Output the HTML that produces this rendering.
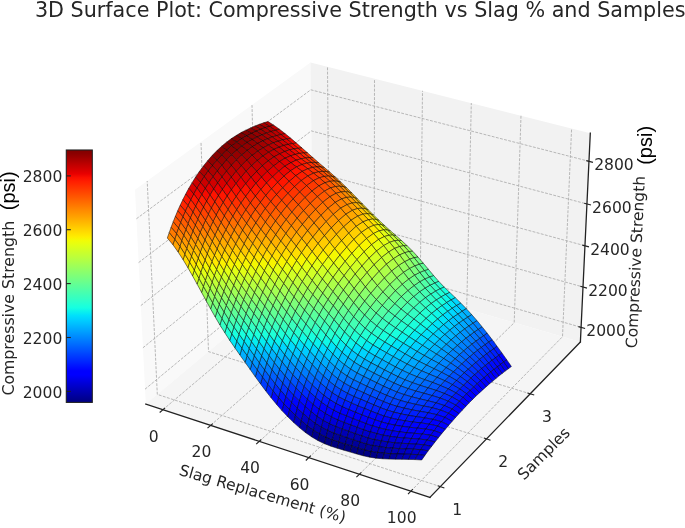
<!DOCTYPE html>
<html><head><meta charset="utf-8"><title>3D Surface Plot</title><style>html,body{margin:0;padding:0;background:#fff}svg{display:block}</style></head><body>
<svg width="685" height="528" viewBox="0 0 685 528">
<rect width="685" height="528" fill="#fff"/>
<path d="M145.8 404.1L312.9 264.1L310.5 62.6L135 189.8Z" fill="#f9f9f9"/>
<path d="M312.9 264.1L580.4 341.9L590.3 133.2L310.5 62.6Z" fill="#f2f2f2"/>
<path d="M145.8 404.1L429.9 497.4L580.4 341.9L312.9 264.1Z" fill="#f5f5f5"/>
<g fill="none" stroke="#b0b0b0" stroke-width="0.9" stroke-dasharray="2.9 1.35">
<path d="M162.9 409.7L329.2 268.9L327.5 66.9"/>
<path d="M210.6 425.4L374.2 282L374.5 78.8"/>
<path d="M259.3 441.4L420.1 295.3L422.5 90.8"/>
<path d="M308.8 457.6L466.7 308.9L471.3 103.1"/>
<path d="M359.4 474.2L514.2 322.7L521 115.7"/>
<path d="M410.9 491.1L562.5 336.7L571.6 128.4"/>
<path d="M440.4 486.6L157.3 394.4L147.2 181"/>
<path d="M486.5 438.9L208.5 351.6L201 142"/>
<path d="M530.2 393.8L257 311L252 105.1"/>
<path d="M145 389.2L312.8 250.1L581.1 327.3"/>
<path d="M142.9 347.8L312.3 211L583 287"/>
<path d="M140.8 305.6L311.8 171.3L585 245.8"/>
<path d="M138.6 262.6L311.3 130.9L586.9 204"/>
<path d="M136.4 218.8L310.8 89.8L589 161.3"/>
</g>
<g fill="none" stroke="#222" stroke-width="1.3" stroke-linecap="square">
<path d="M145.8 404.1L429.9 497.4"/>
<path d="M429.9 497.4L580.4 341.9"/>
<path d="M580.4 341.9L590.3 133.2"/>
</g>
<g fill="none" stroke="#222" stroke-width="1.1">
<path d="M165.1 407.9L159.7 412.5"/>
<path d="M212.8 423.6L207.5 428.2"/>
<path d="M261.3 439.5L256.2 444.2"/>
<path d="M310.9 455.7L305.8 460.5"/>
<path d="M361.4 472.3L356.4 477.2"/>
<path d="M412.9 489.1L408 494.1"/>
<path d="M437.7 485.7L444.4 487.9"/>
<path d="M483.9 438.1L490.5 440.2"/>
<path d="M527.5 392.9L534.2 395"/>
<path d="M578.4 326.6L585.1 328.5"/>
<path d="M580.3 286.2L587 288.1"/>
<path d="M582.3 245.1L589 246.9"/>
<path d="M584.2 203.2L591 205"/>
<path d="M586.3 160.6L593 162.4"/>
</g>
<g stroke="#000" stroke-width="0.5" stroke-linejoin="round">
<path d="M263.7 122.8L269.5 126.4L273.8 125.2L268 121.5Z" fill="#b20000"/>
<path d="M269.5 126.4L275.3 130.3L279.5 129.3L273.8 125.2Z" fill="#bf0000"/>
<path d="M275.3 130.3L281 134.5L285.2 133.7L279.5 129.3Z" fill="#cd0000"/>
<path d="M281 134.5L286.7 139L290.8 138.3L285.2 133.7Z" fill="#df0000"/>
<path d="M286.7 139L292.4 143.6L296.4 143.1L290.8 138.3Z" fill="#ed0400"/>
<path d="M292.4 143.6L298.1 148.3L302 148L296.4 143.1Z" fill="#ff1300"/>
<path d="M259.4 124.3L265.2 127.7L269.5 126.4L263.7 122.8Z" fill="#a80000"/>
<path d="M298.1 148.3L303.8 153L307.6 152.9L302 148Z" fill="#ff2500"/>
<path d="M303.8 153L309.4 157.7L313.1 157.8L307.6 152.9Z" fill="#ff3400"/>
<path d="M265.2 127.7L271 131.5L275.3 130.3L269.5 126.4Z" fill="#b20000"/>
<path d="M309.4 157.7L315.1 162.4L318.7 162.7L313.1 157.8Z" fill="#ff4300"/>
<path d="M315.1 162.4L320.9 167L324.4 167.5L318.7 162.7Z" fill="#ff5200"/>
<path d="M271 131.5L276.7 135.6L281 134.5L275.3 130.3Z" fill="#bf0000"/>
<path d="M320.9 167L326.6 171.6L330 172.3L324.4 167.5Z" fill="#ff6000"/>
<path d="M276.7 135.6L282.5 139.9L286.7 139L281 134.5Z" fill="#d10000"/>
<path d="M326.6 171.6L332.3 176.4L335.6 177.3L330 172.3Z" fill="#ff6f00"/>
<path d="M332.3 176.4L337.9 181.4L341.1 182.4L335.6 177.3Z" fill="#ff7e00"/>
<path d="M282.5 139.9L288.2 144.4L292.4 143.6L286.7 139Z" fill="#df0000"/>
<path d="M337.9 181.4L343.4 186.7L346.6 187.7L341.1 182.4Z" fill="#ff9100"/>
<path d="M254.9 126L260.7 129.4L265.2 127.7L259.4 124.3Z" fill="#9b0000"/>
<path d="M343.4 186.7L348.9 192.1L352 193.1L346.6 187.7Z" fill="#ffa300"/>
<path d="M288.2 144.4L293.9 148.9L298.1 148.3L292.4 143.6Z" fill="#f10800"/>
<path d="M348.9 192.1L354.4 197.6L357.4 198.7L352 193.1Z" fill="#ffb600"/>
<path d="M354.4 197.6L359.8 203.2L362.8 204.2L357.4 198.7Z" fill="#ffc800"/>
<path d="M293.9 148.9L299.7 153.4L303.8 153L298.1 148.3Z" fill="#ff1600"/>
<path d="M359.8 203.2L365.3 208.7L368.3 209.8L362.8 204.2Z" fill="#ffdb00"/>
<path d="M365.3 208.7L370.7 214.1L373.7 215.2L368.3 209.8Z" fill="#feed00"/>
<path d="M260.7 129.4L266.5 133.1L271 131.5L265.2 127.7Z" fill="#a80000"/>
<path d="M299.7 153.4L305.4 158L309.4 157.7L303.8 153Z" fill="#ff2500"/>
<path d="M370.7 214.1L376.2 219.5L379.2 220.5L373.7 215.2Z" fill="#eeff09"/>
<path d="M376.2 219.5L381.7 224.8L384.8 225.7L379.2 220.5Z" fill="#e1ff16"/>
<path d="M305.4 158L311.2 162.4L315.1 162.4L309.4 157.7Z" fill="#ff3400"/>
<path d="M266.5 133.1L272.3 137L276.7 135.6L271 131.5Z" fill="#b60000"/>
<path d="M381.7 224.8L387.3 230L390.4 230.8L384.8 225.7Z" fill="#d1ff26"/>
<path d="M311.2 162.4L317 166.9L320.9 167L315.1 162.4Z" fill="#ff3f00"/>
<path d="M387.3 230L392.8 235.1L396 235.7L390.4 230.8Z" fill="#c4ff33"/>
<path d="M503.5 361.9L508.3 368.8L511.4 366.5L506.7 359.7Z" fill="#0000ed"/>
<path d="M272.3 137L278 141.2L282.5 139.9L276.7 135.6Z" fill="#c40000"/>
<path d="M317 166.9L322.8 171.4L326.6 171.6L320.9 167Z" fill="#ff4e00"/>
<path d="M392.8 235.1L398.3 240.3L401.6 240.6L396 235.7Z" fill="#b4ff43"/>
<path d="M498.6 355.2L503.5 361.9L506.7 359.7L501.9 352.9Z" fill="#0000ff"/>
<path d="M398.3 240.3L403.7 245.7L407.2 245.8L401.6 240.6Z" fill="#a7ff50"/>
<path d="M322.8 171.4L328.5 176.1L332.3 176.4L326.6 171.6Z" fill="#ff5d00"/>
<path d="M493.6 348.6L498.6 355.2L501.9 352.9L497 346.2Z" fill="#0018ff"/>
<path d="M278 141.2L283.8 145.5L288.2 144.4L282.5 139.9Z" fill="#d10000"/>
<path d="M250.4 128L256.2 131.2L260.7 129.4L254.9 126Z" fill="#960000"/>
<path d="M429.4 276.9L434.7 283L438.8 281.4L433.6 275.5Z" fill="#39ffbe"/>
<path d="M403.7 245.7L409 251.5L412.7 251.2L407.2 245.8Z" fill="#97ff60"/>
<path d="M424.3 270.5L429.4 276.9L433.6 275.5L428.4 269.3Z" fill="#4dffaa"/>
<path d="M434.7 283L440.1 288.8L444.2 287.1L438.8 281.4Z" fill="#26ffd1"/>
<path d="M488.5 342L493.6 348.6L497 346.2L492.1 339.6Z" fill="#0034ff"/>
<path d="M419.2 264.1L424.3 270.5L428.4 269.3L423.2 263.1Z" fill="#60ff97"/>
<path d="M328.5 176.1L334.2 181L337.9 181.4L332.3 176.4Z" fill="#ff6c00"/>
<path d="M409 251.5L414.1 257.7L418 257L412.7 251.2Z" fill="#87ff70"/>
<path d="M414.1 257.7L419.2 264.1L423.2 263.1L418 257Z" fill="#73ff83"/>
<path d="M440.1 288.8L445.6 294.4L449.8 292.4L444.2 287.1Z" fill="#16ffe1"/>
<path d="M483.4 335.6L488.5 342L492.1 339.6L487.1 333.1Z" fill="#004cff"/>
<path d="M283.8 145.5L289.5 149.9L293.9 148.9L288.2 144.4Z" fill="#e40000"/>
<path d="M445.6 294.4L451.1 299.9L455.3 297.7L449.8 292.4Z" fill="#06ecf1"/>
<path d="M334.2 181L339.8 186.2L343.4 186.7L337.9 181.4Z" fill="#ff7e00"/>
<path d="M478.1 329.3L483.4 335.6L487.1 333.1L482 326.7Z" fill="#0068ff"/>
<path d="M451.1 299.9L456.6 305.5L460.8 303.1L455.3 297.7Z" fill="#00d8ff"/>
<path d="M472.9 323.1L478.1 329.3L482 326.7L476.9 320.5Z" fill="#0080ff"/>
<path d="M456.6 305.5L462.1 311.2L466.3 308.7L460.8 303.1Z" fill="#00c4ff"/>
<path d="M339.8 186.2L345.3 191.6L348.9 192.1L343.4 186.7Z" fill="#ff8d00"/>
<path d="M467.5 317.1L472.9 323.1L476.9 320.5L471.6 314.5Z" fill="#0098ff"/>
<path d="M462.1 311.2L467.5 317.1L471.6 314.5L466.3 308.7Z" fill="#00b0ff"/>
<path d="M256.2 131.2L261.9 134.9L266.5 133.1L260.7 129.4Z" fill="#9f0000"/>
<path d="M289.5 149.9L295.3 154.4L299.7 153.4L293.9 148.9Z" fill="#f10800"/>
<path d="M345.3 191.6L350.8 197.1L354.4 197.6L348.9 192.1Z" fill="#ff9f00"/>
<path d="M350.8 197.1L356.3 202.6L359.8 203.2L354.4 197.6Z" fill="#ffb200"/>
<path d="M356.3 202.6L361.8 208.2L365.3 208.7L359.8 203.2Z" fill="#ffc400"/>
<path d="M500.3 364.3L505.2 371.1L508.3 368.8L503.5 361.9Z" fill="#0000f1"/>
<path d="M295.3 154.4L301.1 158.8L305.4 158L299.7 153.4Z" fill="#ff1600"/>
<path d="M361.8 208.2L367.2 213.7L370.7 214.1L365.3 208.7Z" fill="#ffd700"/>
<path d="M261.9 134.9L267.6 138.8L272.3 137L266.5 133.1Z" fill="#a80000"/>
<path d="M495.3 357.6L500.3 364.3L503.5 361.9L498.6 355.2Z" fill="#0004ff"/>
<path d="M367.2 213.7L372.7 219.1L376.2 219.5L370.7 214.1Z" fill="#ffea00"/>
<path d="M301.1 158.8L306.9 163.1L311.2 162.4L305.4 158Z" fill="#ff2200"/>
<path d="M372.7 219.1L378.2 224.5L381.7 224.8L376.2 219.5Z" fill="#f1fc06"/>
<path d="M490.1 351.1L495.3 357.6L498.6 355.2L493.6 348.6Z" fill="#0020ff"/>
<path d="M267.6 138.8L273.3 142.9L278 141.2L272.3 137Z" fill="#b60000"/>
<path d="M306.9 163.1L312.7 167.4L317 166.9L311.2 162.4Z" fill="#ff3000"/>
<path d="M378.2 224.5L383.6 229.9L387.3 230L381.7 224.8Z" fill="#e4ff13"/>
<path d="M484.9 344.6L490.1 351.1L493.6 348.6L488.5 342Z" fill="#0038ff"/>
<path d="M245.8 130.2L251.5 133.4L256.2 131.2L250.4 128Z" fill="#8d0000"/>
<path d="M383.6 229.9L389 235.2L392.8 235.1L387.3 230Z" fill="#d4ff23"/>
<path d="M312.7 167.4L318.5 171.8L322.8 171.4L317 166.9Z" fill="#ff3f00"/>
<path d="M273.3 142.9L279 147.2L283.8 145.5L278 141.2Z" fill="#c40000"/>
<path d="M479.6 338.3L484.9 344.6L488.5 342L483.4 335.6Z" fill="#0054ff"/>
<path d="M389 235.2L394.4 240.7L398.3 240.3L392.8 235.1Z" fill="#c7ff30"/>
<path d="M474.2 332L479.6 338.3L483.4 335.6L478.1 329.3Z" fill="#0070ff"/>
<path d="M318.5 171.8L324.3 176.4L328.5 176.1L322.8 171.4Z" fill="#ff4a00"/>
<path d="M497.1 366.7L502.1 373.5L505.2 371.1L500.3 364.3Z" fill="#0000f6"/>
<path d="M279 147.2L284.8 151.5L289.5 149.9L283.8 145.5Z" fill="#d60000"/>
<path d="M468.7 325.9L474.2 332L478.1 329.3L472.9 323.1Z" fill="#0088ff"/>
<path d="M394.4 240.7L399.6 246.5L403.7 245.7L398.3 240.3Z" fill="#b7ff40"/>
<path d="M251.5 133.4L257.1 137L261.9 134.9L256.2 131.2Z" fill="#960000"/>
<path d="M430.1 285.1L435.5 291.1L440.1 288.8L434.7 283Z" fill="#33ffc4"/>
<path d="M324.3 176.4L330 181.3L334.2 181L328.5 176.1Z" fill="#ff5900"/>
<path d="M435.5 291.1L441.1 296.8L445.6 294.4L440.1 288.8Z" fill="#1fffd7"/>
<path d="M424.8 278.9L430.1 285.1L434.7 283L429.4 276.9Z" fill="#46ffb1"/>
<path d="M463.2 319.9L468.7 325.9L472.9 323.1L467.5 317.1Z" fill="#00a0ff"/>
<path d="M441.1 296.8L446.6 302.5L451.1 299.9L445.6 294.4Z" fill="#0ff8e7"/>
<path d="M419.7 272.4L424.8 278.9L429.4 276.9L424.3 270.5Z" fill="#5aff9d"/>
<path d="M446.6 302.5L452.2 308.2L456.6 305.5L451.1 299.9Z" fill="#00e4f8"/>
<path d="M457.7 314L463.2 319.9L467.5 317.1L462.1 311.2Z" fill="#00b8ff"/>
<path d="M399.6 246.5L404.7 252.7L409 251.5L403.7 245.7Z" fill="#a7ff50"/>
<path d="M452.2 308.2L457.7 314L462.1 311.2L456.6 305.5Z" fill="#00d0ff"/>
<path d="M414.6 265.8L419.7 272.4L424.3 270.5L419.2 264.1Z" fill="#6dff8a"/>
<path d="M491.9 360.1L497.1 366.7L500.3 364.3L495.3 357.6Z" fill="#0008ff"/>
<path d="M330 181.3L335.6 186.5L339.8 186.2L334.2 181Z" fill="#ff6c00"/>
<path d="M404.7 252.7L409.7 259.1L414.1 257.7L409 251.5Z" fill="#97ff60"/>
<path d="M409.7 259.1L414.6 265.8L419.2 264.1L414.1 257.7Z" fill="#80ff77"/>
<path d="M284.8 151.5L290.5 155.9L295.3 154.4L289.5 149.9Z" fill="#e40000"/>
<path d="M335.6 186.5L341.1 191.9L345.3 191.6L339.8 186.2Z" fill="#ff7a00"/>
<path d="M257.1 137L262.7 140.9L267.6 138.8L261.9 134.9Z" fill="#9f0000"/>
<path d="M486.6 353.7L491.9 360.1L495.3 357.6L490.1 351.1Z" fill="#0024ff"/>
<path d="M341.1 191.9L346.6 197.4L350.8 197.1L345.3 191.6Z" fill="#ff8d00"/>
<path d="M290.5 155.9L296.3 160.2L301.1 158.8L295.3 154.4Z" fill="#f60b00"/>
<path d="M346.6 197.4L352.1 203L356.3 202.6L350.8 197.1Z" fill="#ff9f00"/>
<path d="M352.1 203L357.6 208.5L361.8 208.2L356.3 202.6Z" fill="#ffb200"/>
<path d="M481.2 347.3L486.6 353.7L490.1 351.1L484.9 344.6Z" fill="#0040ff"/>
<path d="M296.3 160.2L302 164.5L306.9 163.1L301.1 158.8Z" fill="#ff1600"/>
<path d="M262.7 140.9L268.4 145.1L273.3 142.9L267.6 138.8Z" fill="#ad0000"/>
<path d="M357.6 208.5L363 214.1L367.2 213.7L361.8 208.2Z" fill="#ffc400"/>
<path d="M241 132.6L246.6 135.9L251.5 133.4L245.8 130.2Z" fill="#840000"/>
<path d="M475.7 341.1L481.2 347.3L484.9 344.6L479.6 338.3Z" fill="#0058ff"/>
<path d="M363 214.1L368.4 219.7L372.7 219.1L367.2 213.7Z" fill="#ffd700"/>
<path d="M493.8 369.3L498.9 376L502.1 373.5L497.1 366.7Z" fill="#0000fa"/>
<path d="M302 164.5L307.8 168.8L312.7 167.4L306.9 163.1Z" fill="#ff2200"/>
<path d="M368.4 219.7L373.8 225.3L378.2 224.5L372.7 219.1Z" fill="#ffe600"/>
<path d="M268.4 145.1L274 149.4L279 147.2L273.3 142.9Z" fill="#bb0000"/>
<path d="M470.1 335L475.7 341.1L479.6 338.3L474.2 332Z" fill="#0074ff"/>
<path d="M488.5 362.8L493.8 369.3L497.1 366.7L491.9 360.1Z" fill="#000cff"/>
<path d="M373.8 225.3L379.1 230.8L383.6 229.9L378.2 224.5Z" fill="#f4f802"/>
<path d="M307.8 168.8L313.6 173.2L318.5 171.8L312.7 167.4Z" fill="#ff3000"/>
<path d="M464.5 328.9L470.1 335L474.2 332L468.7 325.9Z" fill="#0090ff"/>
<path d="M246.6 135.9L252.2 139.5L257.1 137L251.5 133.4Z" fill="#8d0000"/>
<path d="M274 149.4L279.6 153.8L284.8 151.5L279 147.2Z" fill="#c80000"/>
<path d="M379.1 230.8L384.4 236.5L389 235.2L383.6 229.9Z" fill="#e4ff13"/>
<path d="M458.8 322.9L464.5 328.9L468.7 325.9L463.2 319.9Z" fill="#00a8ff"/>
<path d="M483 356.4L488.5 362.8L491.9 360.1L486.6 353.7Z" fill="#0028ff"/>
<path d="M313.6 173.2L319.3 177.8L324.3 176.4L318.5 171.8Z" fill="#ff3b00"/>
<path d="M453.2 317.1L458.8 322.9L463.2 319.9L457.7 314Z" fill="#00c0ff"/>
<path d="M447.5 311.2L453.2 317.1L457.7 314L452.2 308.2Z" fill="#00d8ff"/>
<path d="M384.4 236.5L389.6 242.3L394.4 240.7L389 235.2Z" fill="#d7ff1f"/>
<path d="M441.9 305.5L447.5 311.2L452.2 308.2L446.6 302.5Z" fill="#06ecf1"/>
<path d="M436.2 299.8L441.9 305.5L446.6 302.5L441.1 296.8Z" fill="#19ffde"/>
<path d="M430.6 294L436.2 299.8L441.1 296.8L435.5 291.1Z" fill="#29ffce"/>
<path d="M425.1 288L430.6 294L435.5 291.1L430.1 285.1Z" fill="#3cffba"/>
<path d="M279.6 153.8L285.2 158.2L290.5 155.9L284.8 151.5Z" fill="#da0000"/>
<path d="M252.2 139.5L257.7 143.5L262.7 140.9L257.1 137Z" fill="#9b0000"/>
<path d="M319.3 177.8L325 182.7L330 181.3L324.3 176.4Z" fill="#ff4a00"/>
<path d="M419.7 281.7L425.1 288L430.1 285.1L424.8 278.9Z" fill="#50ffa7"/>
<path d="M477.4 350.2L483 356.4L486.6 353.7L481.2 347.3Z" fill="#0044ff"/>
<path d="M389.6 242.3L394.6 248.4L399.6 246.5L394.4 240.7Z" fill="#c7ff30"/>
<path d="M414.5 275.1L419.7 281.7L424.8 278.9L419.7 272.4Z" fill="#63ff94"/>
<path d="M490.5 371.9L495.8 378.6L498.9 376L493.8 369.3Z" fill="#0000ff"/>
<path d="M325 182.7L330.5 187.9L335.6 186.5L330 181.3Z" fill="#ff5900"/>
<path d="M409.4 268.4L414.5 275.1L419.7 272.4L414.6 265.8Z" fill="#7aff7d"/>
<path d="M394.6 248.4L399.5 254.9L404.7 252.7L399.6 246.5Z" fill="#b4ff43"/>
<path d="M285.2 158.2L290.9 162.7L296.3 160.2L290.5 155.9Z" fill="#e80000"/>
<path d="M404.5 261.6L409.4 268.4L414.6 265.8L409.7 259.1Z" fill="#8dff6a"/>
<path d="M399.5 254.9L404.5 261.6L409.7 259.1L404.7 252.7Z" fill="#a4ff53"/>
<path d="M236.2 135.5L241.7 138.7L246.6 135.9L241 132.6Z" fill="#800000"/>
<path d="M330.5 187.9L336.1 193.3L341.1 191.9L335.6 186.5Z" fill="#ff6c00"/>
<path d="M471.7 344.1L477.4 350.2L481.2 347.3L475.7 341.1Z" fill="#0060ff"/>
<path d="M257.7 143.5L263.2 147.8L268.4 145.1L262.7 140.9Z" fill="#a40000"/>
<path d="M336.1 193.3L341.6 198.9L346.6 197.4L341.1 191.9Z" fill="#ff7e00"/>
<path d="M485 365.5L490.5 371.9L493.8 369.3L488.5 362.8Z" fill="#0010ff"/>
<path d="M290.9 162.7L296.5 167L302 164.5L296.3 160.2Z" fill="#f60b00"/>
<path d="M341.6 198.9L347 204.6L352.1 203L346.6 197.4Z" fill="#ff8d00"/>
<path d="M465.9 338.1L471.7 344.1L475.7 341.1L470.1 335Z" fill="#0078ff"/>
<path d="M347 204.6L352.4 210.3L357.6 208.5L352.1 203Z" fill="#ff9f00"/>
<path d="M263.2 147.8L268.6 152.3L274 149.4L268.4 145.1Z" fill="#b20000"/>
<path d="M479.4 359.3L485 365.5L488.5 362.8L483 356.4Z" fill="#002cff"/>
<path d="M241.7 138.7L247.1 142.5L252.2 139.5L246.6 135.9Z" fill="#890000"/>
<path d="M352.4 210.3L357.7 216.1L363 214.1L357.6 208.5Z" fill="#ffb200"/>
<path d="M460.1 332.2L465.9 338.1L470.1 335L464.5 328.9Z" fill="#0094ff"/>
<path d="M296.5 167L302.2 171.4L307.8 168.8L302 164.5Z" fill="#ff1600"/>
<path d="M357.7 216.1L363 221.9L368.4 219.7L363 214.1Z" fill="#ffc400"/>
<path d="M454.3 326.3L460.1 332.2L464.5 328.9L458.8 322.9Z" fill="#00acff"/>
<path d="M268.6 152.3L274.1 156.9L279.6 153.8L274 149.4Z" fill="#c40000"/>
<path d="M487.2 374.7L492.5 381.3L495.8 378.6L490.5 371.9Z" fill="#0000ff"/>
<path d="M363 221.9L368.3 227.7L373.8 225.3L368.4 219.7Z" fill="#ffd700"/>
<path d="M302.2 171.4L307.8 176L313.6 173.2L307.8 168.8Z" fill="#ff2500"/>
<path d="M473.5 353.3L479.4 359.3L483 356.4L477.4 350.2Z" fill="#0048ff"/>
<path d="M448.5 320.5L454.3 326.3L458.8 322.9L453.2 317.1Z" fill="#00c4ff"/>
<path d="M247.1 142.5L252.5 146.7L257.7 143.5L252.2 139.5Z" fill="#960000"/>
<path d="M368.3 227.7L373.5 233.5L379.1 230.8L373.8 225.3Z" fill="#ffea00"/>
<path d="M442.7 314.8L448.5 320.5L453.2 317.1L447.5 311.2Z" fill="#00dcfe"/>
<path d="M436.9 309.1L442.7 314.8L447.5 311.2L441.9 305.5Z" fill="#0cf4eb"/>
<path d="M274.1 156.9L279.5 161.5L285.2 158.2L279.6 153.8Z" fill="#d10000"/>
<path d="M307.8 176L313.4 180.7L319.3 177.8L313.6 173.2Z" fill="#ff3000"/>
<path d="M431.1 303.4L436.9 309.1L441.9 305.5L436.2 299.8Z" fill="#1fffd7"/>
<path d="M481.5 368.4L487.2 374.7L490.5 371.9L485 365.5Z" fill="#0014ff"/>
<path d="M467.6 347.4L473.5 353.3L477.4 350.2L471.7 344.1Z" fill="#0064ff"/>
<path d="M425.3 297.7L431.1 303.4L436.2 299.8L430.6 294Z" fill="#30ffc7"/>
<path d="M231.4 138.6L236.7 142.1L241.7 138.7L236.2 135.5Z" fill="#800000"/>
<path d="M373.5 233.5L378.6 239.4L384.4 236.5L379.1 230.8Z" fill="#f1fc06"/>
<path d="M419.6 291.7L425.3 297.7L430.6 294L425.1 288Z" fill="#43ffb4"/>
<path d="M252.5 146.7L257.8 151.2L263.2 147.8L257.7 143.5Z" fill="#9f0000"/>
<path d="M313.4 180.7L318.9 185.8L325 182.7L319.3 177.8Z" fill="#ff3f00"/>
<path d="M414 285.5L419.6 291.7L425.1 288L419.7 281.7Z" fill="#56ffa0"/>
<path d="M279.5 161.5L284.9 166.2L290.9 162.7L285.2 158.2Z" fill="#df0000"/>
<path d="M378.6 239.4L383.6 245.6L389.6 242.3L384.4 236.5Z" fill="#e4ff13"/>
<path d="M461.6 341.6L467.6 347.4L471.7 344.1L465.9 338.1Z" fill="#0080ff"/>
<path d="M408.6 279L414 285.5L419.7 281.7L414.5 275.1Z" fill="#6dff8a"/>
<path d="M475.7 362.4L481.5 368.4L485 365.5L479.4 359.3Z" fill="#0030ff"/>
<path d="M318.9 185.8L324.4 191.1L330.5 187.9L325 182.7Z" fill="#ff4e00"/>
<path d="M383.6 245.6L388.6 252L394.6 248.4L389.6 242.3Z" fill="#d1ff26"/>
<path d="M403.4 272.3L408.6 279L414.5 275.1L409.4 268.4Z" fill="#80ff77"/>
<path d="M236.7 142.1L241.9 146.1L247.1 142.5L241.7 138.7Z" fill="#890000"/>
<path d="M483.8 377.6L489.3 384L492.5 381.3L487.2 374.7Z" fill="#0000ff"/>
<path d="M324.4 191.1L329.9 196.7L336.1 193.3L330.5 187.9Z" fill="#ff6000"/>
<path d="M257.8 151.2L263 156L268.6 152.3L263.2 147.8Z" fill="#ad0000"/>
<path d="M284.9 166.2L290.4 170.9L296.5 167L290.9 162.7Z" fill="#ed0400"/>
<path d="M388.6 252L393.4 258.7L399.5 254.9L394.6 248.4Z" fill="#c1ff36"/>
<path d="M398.4 265.5L403.4 272.3L409.4 268.4L404.5 261.6Z" fill="#97ff60"/>
<path d="M455.6 335.8L461.6 341.6L465.9 338.1L460.1 332.2Z" fill="#0098ff"/>
<path d="M393.4 258.7L398.4 265.5L404.5 261.6L399.5 254.9Z" fill="#adff49"/>
<path d="M329.9 196.7L335.3 202.4L341.6 198.9L336.1 193.3Z" fill="#ff6f00"/>
<path d="M469.6 356.6L475.7 362.4L479.4 359.3L473.5 353.3Z" fill="#004cff"/>
<path d="M335.3 202.4L340.6 208.2L347 204.6L341.6 198.9Z" fill="#ff8200"/>
<path d="M449.6 330.1L455.6 335.8L460.1 332.2L454.3 326.3Z" fill="#00b4ff"/>
<path d="M290.4 170.9L295.8 175.7L302.2 171.4L296.5 167Z" fill="#ff1300"/>
<path d="M478 371.5L483.8 377.6L487.2 374.7L481.5 368.4Z" fill="#0014ff"/>
<path d="M263 156L268.2 160.9L274.1 156.9L268.6 152.3Z" fill="#bf0000"/>
<path d="M340.6 208.2L345.9 214.2L352.4 210.3L347 204.6Z" fill="#ff9400"/>
<path d="M241.9 146.1L247.1 150.5L252.5 146.7L247.1 142.5Z" fill="#920000"/>
<path d="M443.5 324.5L449.6 330.1L454.3 326.3L448.5 320.5Z" fill="#00ccff"/>
<path d="M463.5 350.9L469.6 356.6L473.5 353.3L467.6 347.4Z" fill="#0068ff"/>
<path d="M345.9 214.2L351.1 220.2L357.7 216.1L352.4 210.3Z" fill="#ffa700"/>
<path d="M226.5 142.2L231.7 145.9L236.7 142.1L231.4 138.6Z" fill="#800000"/>
<path d="M437.5 318.9L443.5 324.5L448.5 320.5L442.7 314.8Z" fill="#00e4f8"/>
<path d="M295.8 175.7L301.2 180.6L307.8 176L302.2 171.4Z" fill="#ff1e00"/>
<path d="M351.1 220.2L356.2 226.3L363 221.9L357.7 216.1Z" fill="#ffb900"/>
<path d="M268.2 160.9L273.5 166L279.5 161.5L274.1 156.9Z" fill="#cd0000"/>
<path d="M431.5 313.3L437.5 318.9L442.7 314.8L436.9 309.1Z" fill="#0ff8e7"/>
<path d="M471.9 365.7L478 371.5L481.5 368.4L475.7 362.4Z" fill="#0030ff"/>
<path d="M247.1 150.5L252.2 155.4L257.8 151.2L252.5 146.7Z" fill="#9f0000"/>
<path d="M425.5 307.8L431.5 313.3L436.9 309.1L431.1 303.4Z" fill="#23ffd4"/>
<path d="M356.2 226.3L361.4 232.4L368.3 227.7L363 221.9Z" fill="#ffd000"/>
<path d="M480.4 380.5L486 386.9L489.3 384L483.8 377.6Z" fill="#0000ff"/>
<path d="M457.3 345.3L463.5 350.9L467.6 347.4L461.6 341.6Z" fill="#0080ff"/>
<path d="M419.6 302.2L425.5 307.8L431.1 303.4L425.3 297.7Z" fill="#33ffc4"/>
<path d="M301.2 180.6L306.6 185.6L313.4 180.7L307.8 176Z" fill="#ff2d00"/>
<path d="M273.5 166L278.7 171.1L284.9 166.2L279.5 161.5Z" fill="#df0000"/>
<path d="M361.4 232.4L366.5 238.5L373.5 233.5L368.3 227.7Z" fill="#ffde00"/>
<path d="M413.6 296.5L419.6 302.2L425.3 297.7L419.6 291.7Z" fill="#46ffb1"/>
<path d="M231.7 145.9L236.7 150.2L241.9 146.1L236.7 142.1Z" fill="#840000"/>
<path d="M465.7 360.1L471.9 365.7L475.7 362.4L469.6 356.6Z" fill="#004cff"/>
<path d="M407.8 290.5L413.6 296.5L419.6 291.7L414 285.5Z" fill="#5aff9d"/>
<path d="M306.6 185.6L312 191L318.9 185.8L313.4 180.7Z" fill="#ff3800"/>
<path d="M252.2 155.4L257.3 160.5L263 156L257.8 151.2Z" fill="#ad0000"/>
<path d="M451 339.8L457.3 345.3L461.6 341.6L455.6 335.8Z" fill="#009cff"/>
<path d="M366.5 238.5L371.5 244.7L378.6 239.4L373.5 233.5Z" fill="#fbf100"/>
<path d="M474.4 374.7L480.4 380.5L483.8 377.6L478 371.5Z" fill="#0018ff"/>
<path d="M278.7 171.1L283.9 176.2L290.4 170.9L284.9 166.2Z" fill="#ed0400"/>
<path d="M402.2 284.2L407.8 290.5L414 285.5L408.6 279Z" fill="#70ff87"/>
<path d="M312 191L317.3 196.6L324.4 191.1L318.9 185.8Z" fill="#ff4a00"/>
<path d="M371.5 244.7L376.5 251L383.6 245.6L378.6 239.4Z" fill="#e7ff0f"/>
<path d="M444.7 334.4L451 339.8L455.6 335.8L449.6 330.1Z" fill="#00b4ff"/>
<path d="M236.7 150.2L241.7 155L247.1 150.5L241.9 146.1Z" fill="#920000"/>
<path d="M396.7 277.7L402.2 284.2L408.6 279L403.4 272.3Z" fill="#87ff70"/>
<path d="M257.3 160.5L262.3 165.9L268.2 160.9L263 156Z" fill="#bf0000"/>
<path d="M317.3 196.6L322.7 202.3L329.9 196.7L324.4 191.1Z" fill="#ff5900"/>
<path d="M376.5 251L381.5 257.5L388.6 252L383.6 245.6Z" fill="#d7ff1f"/>
<path d="M459.3 354.6L465.7 360.1L469.6 356.6L463.5 350.9Z" fill="#0068ff"/>
<path d="M221.6 146.3L226.6 150.2L231.7 145.9L226.5 142.2Z" fill="#800000"/>
<path d="M391.5 271L396.7 277.7L403.4 272.3L398.4 265.5Z" fill="#9aff5d"/>
<path d="M283.9 176.2L289.2 181.4L295.8 175.7L290.4 170.9Z" fill="#ff1300"/>
<path d="M381.5 257.5L386.4 264.2L393.4 258.7L388.6 252Z" fill="#c4ff33"/>
<path d="M468.1 369.1L474.4 374.7L478 371.5L471.9 365.7Z" fill="#0034ff"/>
<path d="M386.4 264.2L391.5 271L398.4 265.5L393.4 258.7Z" fill="#b1ff46"/>
<path d="M322.7 202.3L328 208.3L335.3 202.4L329.9 196.7Z" fill="#ff6c00"/>
<path d="M477 383.7L482.7 389.9L486 386.9L480.4 380.5Z" fill="#0000ff"/>
<path d="M438.4 329L444.7 334.4L449.6 330.1L443.5 324.5Z" fill="#00ccff"/>
<path d="M328 208.3L333.3 214.3L340.6 208.2L335.3 202.4Z" fill="#ff7e00"/>
<path d="M262.3 165.9L267.4 171.3L273.5 166L268.2 160.9Z" fill="#d10000"/>
<path d="M432.2 323.6L438.4 329L443.5 324.5L437.5 318.9Z" fill="#00e4f8"/>
<path d="M241.7 155L246.7 160.2L252.2 155.4L247.1 150.5Z" fill="#9f0000"/>
<path d="M333.3 214.3L338.5 220.5L345.9 214.2L340.6 208.2Z" fill="#ff9400"/>
<path d="M289.2 181.4L294.4 186.6L301.2 180.6L295.8 175.7Z" fill="#ff1e00"/>
<path d="M452.8 349.4L459.3 354.6L463.5 350.9L457.3 345.3Z" fill="#0084ff"/>
<path d="M426 318.3L432.2 323.6L437.5 318.9L431.5 313.3Z" fill="#13fce4"/>
<path d="M226.6 150.2L231.6 154.9L236.7 150.2L231.7 145.9Z" fill="#890000"/>
<path d="M338.5 220.5L343.6 226.8L351.1 220.2L345.9 214.2Z" fill="#ffa700"/>
<path d="M470.8 378L477 383.7L480.4 380.5L474.4 374.7Z" fill="#0018ff"/>
<path d="M461.6 363.8L468.1 369.1L471.9 365.7L465.7 360.1Z" fill="#0050ff"/>
<path d="M419.8 313L426 318.3L431.5 313.3L425.5 307.8Z" fill="#23ffd4"/>
<path d="M267.4 171.3L272.5 176.8L278.7 171.1L273.5 166Z" fill="#e40000"/>
<path d="M343.6 226.8L348.7 233.1L356.2 226.3L351.1 220.2Z" fill="#ffb900"/>
<path d="M294.4 186.6L299.7 192L306.6 185.6L301.2 180.6Z" fill="#ff2d00"/>
<path d="M413.5 307.7L419.8 313L425.5 307.8L419.6 302.2Z" fill="#36ffc1"/>
<path d="M246.7 160.2L251.6 165.7L257.3 160.5L252.2 155.4Z" fill="#b20000"/>
<path d="M446.2 344.2L452.8 349.4L457.3 345.3L451 339.8Z" fill="#009cff"/>
<path d="M348.7 233.1L353.8 239.4L361.4 232.4L356.2 226.3Z" fill="#ffd000"/>
<path d="M407.3 302.3L413.5 307.7L419.6 302.2L413.6 296.5Z" fill="#49ffad"/>
<path d="M272.5 176.8L277.6 182.3L283.9 176.2L278.7 171.1Z" fill="#f10800"/>
<path d="M299.7 192L305 197.6L312 191L306.6 185.6Z" fill="#ff3b00"/>
<path d="M353.8 239.4L359 245.6L366.5 238.5L361.4 232.4Z" fill="#ffe200"/>
<path d="M231.6 154.9L236.5 160L241.7 155L236.7 150.2Z" fill="#960000"/>
<path d="M216.8 150.8L221.8 155L226.6 150.2L221.6 146.3Z" fill="#840000"/>
<path d="M473.5 386.9L479.4 392.9L482.7 389.9L477 383.7Z" fill="#0000ff"/>
<path d="M401.2 296.6L407.3 302.3L413.6 296.5L407.8 290.5Z" fill="#5dff9a"/>
<path d="M455 358.7L461.6 363.8L465.7 360.1L459.3 354.6Z" fill="#006cff"/>
<path d="M464.2 372.7L470.8 378L474.4 374.7L468.1 369.1Z" fill="#0034ff"/>
<path d="M251.6 165.7L256.6 171.4L262.3 165.9L257.3 160.5Z" fill="#c40000"/>
<path d="M439.7 339L446.2 344.2L451 339.8L444.7 334.4Z" fill="#00b8ff"/>
<path d="M359 245.6L364 251.8L371.5 244.7L366.5 238.5Z" fill="#f8f500"/>
<path d="M305 197.6L310.3 203.4L317.3 196.6L312 191Z" fill="#ff4e00"/>
<path d="M395.3 290.7L401.2 296.6L407.8 290.5L402.2 284.2Z" fill="#70ff87"/>
<path d="M277.6 182.3L282.7 187.8L289.2 181.4L283.9 176.2Z" fill="#ff1600"/>
<path d="M364 251.8L369 258.2L376.5 251L371.5 244.7Z" fill="#e7ff0f"/>
<path d="M310.3 203.4L315.6 209.3L322.7 202.3L317.3 196.6Z" fill="#ff6000"/>
<path d="M433.2 333.9L439.7 339L444.7 334.4L438.4 329Z" fill="#00d0ff"/>
<path d="M236.5 160L241.3 165.6L246.7 160.2L241.7 155Z" fill="#a80000"/>
<path d="M256.6 171.4L261.5 177.2L267.4 171.3L262.3 165.9Z" fill="#d60000"/>
<path d="M389.7 284.4L395.3 290.7L402.2 284.2L396.7 277.7Z" fill="#83ff73"/>
<path d="M467.1 381.5L473.5 386.9L477 383.7L470.8 378Z" fill="#001cff"/>
<path d="M221.8 155L226.6 160L231.6 154.9L226.6 150.2Z" fill="#8d0000"/>
<path d="M315.6 209.3L320.9 215.4L328 208.3L322.7 202.3Z" fill="#ff7300"/>
<path d="M448.2 353.7L455 358.7L459.3 354.6L452.8 349.4Z" fill="#0084ff"/>
<path d="M369 258.2L374 264.7L381.5 257.5L376.5 251Z" fill="#d4ff23"/>
<path d="M384.3 277.9L389.7 284.4L396.7 277.7L391.5 271Z" fill="#9aff5d"/>
<path d="M282.7 187.8L287.9 193.3L294.4 186.6L289.2 181.4Z" fill="#ff2500"/>
<path d="M457.5 367.7L464.2 372.7L468.1 369.1L461.6 363.8Z" fill="#0050ff"/>
<path d="M426.7 328.9L433.2 333.9L438.4 329L432.2 323.6Z" fill="#00e4f8"/>
<path d="M374 264.7L379.1 271.3L386.4 264.2L381.5 257.5Z" fill="#c4ff33"/>
<path d="M320.9 215.4L326.1 221.6L333.3 214.3L328 208.3Z" fill="#ff8600"/>
<path d="M379.1 271.3L384.3 277.9L391.5 271L386.4 264.2Z" fill="#adff49"/>
<path d="M261.5 177.2L266.5 183L272.5 176.8L267.4 171.3Z" fill="#e80000"/>
<path d="M326.1 221.6L331.3 227.9L338.5 220.5L333.3 214.3Z" fill="#ff9800"/>
<path d="M420.3 323.9L426.7 328.9L432.2 323.6L426 318.3Z" fill="#13fce4"/>
<path d="M241.3 165.6L246.2 171.4L251.6 165.7L246.7 160.2Z" fill="#bb0000"/>
<path d="M331.3 227.9L336.4 234.3L343.6 226.8L338.5 220.5Z" fill="#ffae00"/>
<path d="M287.9 193.3L293.1 198.9L299.7 192L294.4 186.6Z" fill="#ff3400"/>
<path d="M413.8 319L420.3 323.9L426 318.3L419.8 313Z" fill="#23ffd4"/>
<path d="M470 390.3L476 396.1L479.4 392.9L473.5 386.9Z" fill="#0000ff"/>
<path d="M441.4 348.9L448.2 353.7L452.8 349.4L446.2 344.2Z" fill="#009cff"/>
<path d="M212.1 155.6L217 160.1L221.8 155L216.8 150.8Z" fill="#890000"/>
<path d="M226.6 160L231.4 165.4L236.5 160L231.6 154.9Z" fill="#9f0000"/>
<path d="M336.4 234.3L341.5 240.7L348.7 233.1L343.6 226.8Z" fill="#ffc400"/>
<path d="M407.4 314.1L413.8 319L419.8 313L413.5 307.7Z" fill="#33ffc4"/>
<path d="M266.5 183L271.5 188.8L277.6 182.3L272.5 176.8Z" fill="#ff1300"/>
<path d="M460.3 376.5L467.1 381.5L470.8 378L464.2 372.7Z" fill="#0038ff"/>
<path d="M341.5 240.7L346.7 247.1L353.8 239.4L348.7 233.1Z" fill="#ffd700"/>
<path d="M246.2 171.4L251 177.4L256.6 171.4L251.6 165.7Z" fill="#cd0000"/>
<path d="M450.5 362.9L457.5 367.7L461.6 363.8L455 358.7Z" fill="#006cff"/>
<path d="M293.1 198.9L298.3 204.7L305 197.6L299.7 192Z" fill="#ff4700"/>
<path d="M401 309L407.4 314.1L413.5 307.7L407.3 302.3Z" fill="#43ffb4"/>
<path d="M346.7 247.1L351.8 253.4L359 245.6L353.8 239.4Z" fill="#ffea00"/>
<path d="M434.5 344.1L441.4 348.9L446.2 344.2L439.7 339Z" fill="#00b4ff"/>
<path d="M271.5 188.8L276.5 194.5L282.7 187.8L277.6 182.3Z" fill="#ff2200"/>
<path d="M394.7 303.6L401 309L407.3 302.3L401.2 296.6Z" fill="#56ffa0"/>
<path d="M298.3 204.7L303.5 210.6L310.3 203.4L305 197.6Z" fill="#ff5900"/>
<path d="M231.4 165.4L236.2 171.3L241.3 165.6L236.5 160Z" fill="#b20000"/>
<path d="M351.8 253.4L356.9 259.6L364 251.8L359 245.6Z" fill="#eeff09"/>
<path d="M251 177.4L255.9 183.4L261.5 177.2L256.6 171.4Z" fill="#df0000"/>
<path d="M463.3 385.1L470 390.3L473.5 386.9L467.1 381.5Z" fill="#001cff"/>
<path d="M217 160.1L221.8 165.4L226.6 160L221.8 155Z" fill="#960000"/>
<path d="M303.5 210.6L308.8 216.7L315.6 209.3L310.3 203.4Z" fill="#ff6c00"/>
<path d="M388.6 297.9L394.7 303.6L401.2 296.6L395.3 290.7Z" fill="#6aff8d"/>
<path d="M427.8 339.4L434.5 344.1L439.7 339L433.2 333.9Z" fill="#00ccff"/>
<path d="M356.9 259.6L361.9 266L369 258.2L364 251.8Z" fill="#deff19"/>
<path d="M453.3 371.8L460.3 376.5L464.2 372.7L457.5 367.7Z" fill="#0050ff"/>
<path d="M443.5 358.4L450.5 362.9L455 358.7L448.2 353.7Z" fill="#0084ff"/>
<path d="M276.5 194.5L281.6 200.3L287.9 193.3L282.7 187.8Z" fill="#ff3000"/>
<path d="M308.8 216.7L314 222.9L320.9 215.4L315.6 209.3Z" fill="#ff7e00"/>
<path d="M255.9 183.4L260.8 189.5L266.5 183L261.5 177.2Z" fill="#f60b00"/>
<path d="M236.2 171.3L240.9 177.3L246.2 171.4L241.3 165.6Z" fill="#c40000"/>
<path d="M382.8 291.8L388.6 297.9L395.3 290.7L389.7 284.4Z" fill="#7dff7a"/>
<path d="M361.9 266L367 272.5L374 264.7L369 258.2Z" fill="#caff2c"/>
<path d="M314 222.9L319.2 229.2L326.1 221.6L320.9 215.4Z" fill="#ff9100"/>
<path d="M466.4 393.7L472.6 399.4L476 396.1L470 390.3Z" fill="#0000ff"/>
<path d="M207.7 160.7L212.5 165.5L217 160.1L212.1 155.6Z" fill="#920000"/>
<path d="M421.1 334.7L427.8 339.4L433.2 333.9L426.7 328.9Z" fill="#00e0fb"/>
<path d="M377.3 285.5L382.8 291.8L389.7 284.4L384.3 277.9Z" fill="#94ff63"/>
<path d="M367 272.5L372 279L379.1 271.3L374 264.7Z" fill="#baff3c"/>
<path d="M319.2 229.2L324.4 235.7L331.3 227.9L326.1 221.6Z" fill="#ffa700"/>
<path d="M221.8 165.4L226.5 171.1L231.4 165.4L226.6 160Z" fill="#a80000"/>
<path d="M372 279L377.3 285.5L384.3 277.9L379.1 271.3Z" fill="#a7ff50"/>
<path d="M281.6 200.3L286.8 206.1L293.1 198.9L287.9 193.3Z" fill="#ff4300"/>
<path d="M324.4 235.7L329.6 242.1L336.4 234.3L331.3 227.9Z" fill="#ffbd00"/>
<path d="M414.5 330.1L421.1 334.7L426.7 328.9L420.3 323.9Z" fill="#0cf4eb"/>
<path d="M260.8 189.5L265.7 195.5L271.5 188.8L266.5 183Z" fill="#ff1e00"/>
<path d="M456.3 380.4L463.3 385.1L467.1 381.5L460.3 376.5Z" fill="#0038ff"/>
<path d="M240.9 177.3L245.7 183.6L251 177.4L246.2 171.4Z" fill="#da0000"/>
<path d="M329.6 242.1L334.7 248.6L341.5 240.7L336.4 234.3Z" fill="#ffd000"/>
<path d="M436.4 354L443.5 358.4L448.2 353.7L441.4 348.9Z" fill="#009cff"/>
<path d="M407.9 325.5L414.5 330.1L420.3 323.9L413.8 319Z" fill="#1cffdb"/>
<path d="M334.7 248.6L339.9 255L346.7 247.1L341.5 240.7Z" fill="#ffe600"/>
<path d="M286.8 206.1L291.9 212.1L298.3 204.7L293.1 198.9Z" fill="#ff5200"/>
<path d="M446 367.5L453.3 371.8L457.5 367.7L450.5 362.9Z" fill="#006cff"/>
<path d="M401.3 320.8L407.9 325.5L413.8 319L407.4 314.1Z" fill="#2cffca"/>
<path d="M226.5 171.1L231.3 177.2L236.2 171.3L231.4 165.4Z" fill="#bb0000"/>
<path d="M339.9 255L345.1 261.3L351.8 253.4L346.7 247.1Z" fill="#f4f802"/>
<path d="M265.7 195.5L270.7 201.5L276.5 194.5L271.5 188.8Z" fill="#ff2d00"/>
<path d="M212.5 165.5L217.3 171L221.8 165.4L217 160.1Z" fill="#a40000"/>
<path d="M245.7 183.6L250.5 189.9L255.9 183.4L251 177.4Z" fill="#ed0400"/>
<path d="M394.8 316L401.3 320.8L407.4 314.1L401 309Z" fill="#3cffba"/>
<path d="M459.6 388.9L466.4 393.7L470 390.3L463.3 385.1Z" fill="#001cff"/>
<path d="M291.9 212.1L297.1 218.2L303.5 210.6L298.3 204.7Z" fill="#ff6400"/>
<path d="M345.1 261.3L350.2 267.6L356.9 259.6L351.8 253.4Z" fill="#e1ff16"/>
<path d="M429.3 349.6L436.4 354L441.4 348.9L434.5 344.1Z" fill="#00b4ff"/>
<path d="M388.3 310.9L394.8 316L401 309L394.7 303.6Z" fill="#4dffaa"/>
<path d="M297.1 218.2L302.4 224.4L308.8 216.7L303.5 210.6Z" fill="#ff7700"/>
<path d="M270.7 201.5L275.8 207.5L281.6 200.3L276.5 194.5Z" fill="#ff3f00"/>
<path d="M250.5 189.9L255.4 196.2L260.8 189.5L255.9 183.4Z" fill="#ff1600"/>
<path d="M350.2 267.6L355.2 274L361.9 266L356.9 259.6Z" fill="#d1ff26"/>
<path d="M231.3 177.2L236 183.5L240.9 177.3L236.2 171.3Z" fill="#d10000"/>
<path d="M203.4 166L208.2 171L212.5 165.5L207.7 160.7Z" fill="#9f0000"/>
<path d="M449 376.2L456.3 380.4L460.3 376.5L453.3 371.8Z" fill="#0050ff"/>
<path d="M302.4 224.4L307.6 230.7L314 222.9L308.8 216.7Z" fill="#ff8d00"/>
<path d="M382.2 305.4L388.3 310.9L394.7 303.6L388.6 297.9Z" fill="#60ff97"/>
<path d="M438.7 363.3L446 367.5L450.5 362.9L443.5 358.4Z" fill="#0084ff"/>
<path d="M462.8 397.4L469.2 402.8L472.6 399.4L466.4 393.7Z" fill="#0000ff"/>
<path d="M217.3 171L222 177L226.5 171.1L221.8 165.4Z" fill="#b60000"/>
<path d="M307.6 230.7L312.8 237.1L319.2 229.2L314 222.9Z" fill="#ff9f00"/>
<path d="M422.4 345.3L429.3 349.6L434.5 344.1L427.8 339.4Z" fill="#00c8ff"/>
<path d="M355.2 274L360.3 280.4L367 272.5L361.9 266Z" fill="#beff39"/>
<path d="M312.8 237.1L318 243.5L324.4 235.7L319.2 229.2Z" fill="#ffb600"/>
<path d="M275.8 207.5L280.9 213.5L286.8 206.1L281.6 200.3Z" fill="#ff5200"/>
<path d="M376.3 299.5L382.2 305.4L388.6 297.9L382.8 291.8Z" fill="#73ff83"/>
<path d="M255.4 196.2L260.4 202.4L265.7 195.5L260.8 189.5Z" fill="#ff2900"/>
<path d="M236 183.5L240.7 190L245.7 183.6L240.9 177.3Z" fill="#e80000"/>
<path d="M318 243.5L323.2 250.1L329.6 242.1L324.4 235.7Z" fill="#ffcc00"/>
<path d="M360.3 280.4L365.4 286.9L372 279L367 272.5Z" fill="#adff49"/>
<path d="M370.7 293.3L376.3 299.5L382.8 291.8L377.3 285.5Z" fill="#87ff70"/>
<path d="M323.2 250.1L328.4 256.6L334.7 248.6L329.6 242.1Z" fill="#ffe200"/>
<path d="M415.5 340.9L422.4 345.3L427.8 339.4L421.1 334.7Z" fill="#00dcfe"/>
<path d="M365.4 286.9L370.7 293.3L377.3 285.5L372 279Z" fill="#9aff5d"/>
<path d="M452.3 384.6L459.6 388.9L463.3 385.1L456.3 380.4Z" fill="#0034ff"/>
<path d="M328.4 256.6L333.6 263L339.9 255L334.7 248.6Z" fill="#f4f802"/>
<path d="M280.9 213.5L286.1 219.6L291.9 212.1L286.8 206.1Z" fill="#ff6400"/>
<path d="M408.8 336.6L415.5 340.9L421.1 334.7L414.5 330.1Z" fill="#06ecf1"/>
<path d="M260.4 202.4L265.3 208.6L270.7 201.5L265.7 195.5Z" fill="#ff3b00"/>
<path d="M222 177L226.7 183.3L231.3 177.2L226.5 171.1Z" fill="#c80000"/>
<path d="M208.2 171L213 176.7L217.3 171L212.5 165.5Z" fill="#ad0000"/>
<path d="M333.6 263L338.8 269.4L345.1 261.3L339.9 255Z" fill="#e4ff13"/>
<path d="M240.7 190L245.6 196.5L250.5 189.9L245.7 183.6Z" fill="#ff1300"/>
<path d="M402.1 332.2L408.8 336.6L414.5 330.1L407.9 325.5Z" fill="#16ffe1"/>
<path d="M431.3 359.4L438.7 363.3L443.5 358.4L436.4 354Z" fill="#0098ff"/>
<path d="M286.1 219.6L291.3 225.8L297.1 218.2L291.9 212.1Z" fill="#ff7700"/>
<path d="M441.5 372.3L449 376.2L453.3 371.8L446 367.5Z" fill="#0068ff"/>
<path d="M338.8 269.4L344 275.7L350.2 267.6L345.1 261.3Z" fill="#d1ff26"/>
<path d="M395.5 327.8L402.1 332.2L407.9 325.5L401.3 320.8Z" fill="#23ffd4"/>
<path d="M276.6 404.4L282.1 410.8L284 403.6L278.5 397.3Z" fill="#0000ff"/>
<path d="M271.1 397.8L276.6 404.4L278.5 397.3L273 390.7Z" fill="#0008ff"/>
<path d="M282.1 410.8L287.8 416.8L289.7 409.6L284 403.6Z" fill="#0000e8"/>
<path d="M455.7 392.8L462.8 397.4L466.4 393.7L459.6 388.9Z" fill="#001cff"/>
<path d="M265.8 391L271.1 397.8L273 390.7L267.7 383.9Z" fill="#0024ff"/>
<path d="M265.3 208.6L270.4 214.8L275.8 207.5L270.7 201.5Z" fill="#ff4e00"/>
<path d="M245.6 196.5L250.4 203L255.4 196.2L250.5 189.9Z" fill="#ff2500"/>
<path d="M388.8 323.2L395.5 327.8L401.3 320.8L394.8 316Z" fill="#33ffc4"/>
<path d="M291.3 225.8L296.5 232.1L302.4 224.4L297.1 218.2Z" fill="#ff8900"/>
<path d="M287.8 416.8L293.7 422.5L295.5 415.3L289.7 409.6Z" fill="#0000cd"/>
<path d="M226.7 183.3L231.4 189.8L236 183.5L231.3 177.2Z" fill="#df0000"/>
<path d="M199.4 171.5L204.2 176.7L208.2 171L203.4 166Z" fill="#ad0000"/>
<path d="M344 275.7L349.1 282L355.2 274L350.2 267.6Z" fill="#c1ff36"/>
<path d="M260.5 383.9L265.8 391L267.7 383.9L262.5 376.9Z" fill="#003cff"/>
<path d="M296.5 232.1L301.7 238.5L307.6 230.7L302.4 224.4Z" fill="#ff9f00"/>
<path d="M382.3 318.3L388.8 323.2L394.8 316L388.3 310.9Z" fill="#43ffb4"/>
<path d="M213 176.7L217.7 182.9L222 177L217.3 171Z" fill="#c40000"/>
<path d="M293.7 422.5L299.6 427.8L301.4 420.7L295.5 415.3Z" fill="#0000bb"/>
<path d="M255.3 376.8L260.5 383.9L262.5 376.9L257.3 369.7Z" fill="#0058ff"/>
<path d="M301.7 238.5L306.9 244.9L312.8 237.1L307.6 230.7Z" fill="#ffb200"/>
<path d="M424.1 355.4L431.3 359.4L436.4 354L429.3 349.6Z" fill="#00acff"/>
<path d="M278.5 397.3L284 403.6L286 396.4L280.5 390.1Z" fill="#0010ff"/>
<path d="M250.4 203L255.4 209.4L260.4 202.4L255.4 196.2Z" fill="#ff3b00"/>
<path d="M270.4 214.8L275.5 221L280.9 213.5L275.8 207.5Z" fill="#ff6000"/>
<path d="M273 390.7L278.5 397.3L280.5 390.1L275.1 383.5Z" fill="#0028ff"/>
<path d="M349.1 282L354.1 288.4L360.3 280.4L355.2 274Z" fill="#adff49"/>
<path d="M284 403.6L289.7 409.6L291.7 402.4L286 396.4Z" fill="#0000ff"/>
<path d="M306.9 244.9L312.1 251.5L318 243.5L312.8 237.1Z" fill="#ffc800"/>
<path d="M267.7 383.9L273 390.7L275.1 383.5L269.8 376.7Z" fill="#0040ff"/>
<path d="M231.4 189.8L236.1 196.5L240.7 190L236 183.5Z" fill="#fa0f00"/>
<path d="M312.1 251.5L317.3 258L323.2 250.1L318 243.5Z" fill="#ffde00"/>
<path d="M376.1 313L382.3 318.3L388.3 310.9L382.2 305.4Z" fill="#53ffa4"/>
<path d="M444.7 380.7L452.3 384.6L456.3 380.4L449 376.2Z" fill="#004cff"/>
<path d="M459.2 401.1L465.8 406.4L469.2 402.8L462.8 397.4Z" fill="#0000ff"/>
<path d="M289.7 409.6L295.5 415.3L297.4 408.1L291.7 402.4Z" fill="#0000f1"/>
<path d="M250.2 369.5L255.3 376.8L257.3 369.7L252.2 362.6Z" fill="#0078ff"/>
<path d="M317.3 258L322.5 264.6L328.4 256.6L323.2 250.1Z" fill="#f8f500"/>
<path d="M262.5 376.9L267.7 383.9L269.8 376.7L264.6 369.8Z" fill="#005cff"/>
<path d="M299.6 427.8L305.7 432.7L307.4 425.6L301.4 420.7Z" fill="#0000a8"/>
<path d="M322.5 264.6L327.7 271L333.6 263L328.4 256.6Z" fill="#e4ff13"/>
<path d="M354.1 288.4L359.3 294.9L365.4 286.9L360.3 280.4Z" fill="#9dff5a"/>
<path d="M275.5 221L280.6 227.2L286.1 219.6L280.9 213.5Z" fill="#ff7300"/>
<path d="M370.2 307.3L376.1 313L382.2 305.4L376.3 299.5Z" fill="#66ff90"/>
<path d="M255.4 209.4L260.4 215.8L265.3 208.6L260.4 202.4Z" fill="#ff4e00"/>
<path d="M433.9 368.6L441.5 372.3L446 367.5L438.7 363.3Z" fill="#0080ff"/>
<path d="M327.7 271L333 277.4L338.8 269.4L333.6 263Z" fill="#d1ff26"/>
<path d="M295.5 415.3L301.4 420.7L303.3 413.5L297.4 408.1Z" fill="#0000da"/>
<path d="M245.1 362.3L250.2 369.5L252.2 362.6L247.1 355.4Z" fill="#0094ff"/>
<path d="M257.3 369.7L262.5 376.9L264.6 369.8L259.4 362.7Z" fill="#0078ff"/>
<path d="M359.3 294.9L364.6 301.2L370.7 293.3L365.4 286.9Z" fill="#8aff6d"/>
<path d="M417 351.4L424.1 355.4L429.3 349.6L422.4 345.3Z" fill="#00c0ff"/>
<path d="M236.1 196.5L241 203.1L245.6 196.5L240.7 190Z" fill="#ff2200"/>
<path d="M280.5 390.1L286 396.4L288.2 389.1L282.7 382.8Z" fill="#0030ff"/>
<path d="M364.6 301.2L370.2 307.3L376.3 299.5L370.7 293.3Z" fill="#77ff80"/>
<path d="M217.7 182.9L222.4 189.5L226.7 183.3L222 177Z" fill="#da0000"/>
<path d="M275.1 383.5L280.5 390.1L282.7 382.8L277.3 376.3Z" fill="#0048ff"/>
<path d="M204.2 176.7L209 182.6L213 176.7L208.2 171Z" fill="#bf0000"/>
<path d="M286 396.4L291.7 402.4L293.8 395.2L288.2 389.1Z" fill="#0018ff"/>
<path d="M269.8 376.7L275.1 383.5L277.3 376.3L272 369.6Z" fill="#0060ff"/>
<path d="M333 277.4L338.2 283.7L344 275.7L338.8 269.4Z" fill="#c1ff36"/>
<path d="M280.6 227.2L285.8 233.5L291.3 225.8L286.1 219.6Z" fill="#ff8900"/>
<path d="M291.7 402.4L297.4 408.1L299.5 400.9L293.8 395.2Z" fill="#0004ff"/>
<path d="M252.2 362.6L257.3 369.7L259.4 362.7L254.3 355.5Z" fill="#0094ff"/>
<path d="M239.9 355L245.1 362.3L247.1 355.4L241.9 348.1Z" fill="#00b0ff"/>
<path d="M260.4 215.8L265.4 222.1L270.4 214.8L265.3 208.6Z" fill="#ff6000"/>
<path d="M264.6 369.8L269.8 376.7L272 369.6L266.8 362.6Z" fill="#007cff"/>
<path d="M305.7 432.7L311.9 437L313.5 430L307.4 425.6Z" fill="#000096"/>
<path d="M301.4 420.7L307.4 425.6L309.2 418.5L303.3 413.5Z" fill="#0000c8"/>
<path d="M410.1 347.3L417 351.4L422.4 345.3L415.5 340.9Z" fill="#00d0ff"/>
<path d="M448.2 388.9L455.7 392.8L459.6 388.9L452.3 384.6Z" fill="#0034ff"/>
<path d="M241 203.1L245.8 209.8L250.4 203L245.6 196.5Z" fill="#ff3800"/>
<path d="M285.8 233.5L291.1 239.8L296.5 232.1L291.3 225.8Z" fill="#ff9c00"/>
<path d="M338.2 283.7L343.4 290L349.1 282L344 275.7Z" fill="#adff49"/>
<path d="M297.4 408.1L303.3 413.5L305.3 406.4L299.5 400.9Z" fill="#0000ff"/>
<path d="M247.1 355.4L252.2 362.6L254.3 355.5L249.2 348.4Z" fill="#00b0ff"/>
<path d="M259.4 362.7L264.6 369.8L266.8 362.6L261.6 355.6Z" fill="#0094ff"/>
<path d="M222.4 189.5L227.1 196.2L231.4 189.8L226.7 183.3Z" fill="#f10800"/>
<path d="M195.6 177.1L200.5 182.5L204.2 176.7L199.4 171.5Z" fill="#bb0000"/>
<path d="M234.8 347.7L239.9 355L241.9 348.1L236.8 340.9Z" fill="#00ccff"/>
<path d="M403.4 343.2L410.1 347.3L415.5 340.9L408.8 336.6Z" fill="#00e4f8"/>
<path d="M282.7 382.8L288.2 389.1L290.5 381.9L285 375.6Z" fill="#004cff"/>
<path d="M277.3 376.3L282.7 382.8L285 375.6L279.6 369.1Z" fill="#0064ff"/>
<path d="M291.1 239.8L296.3 246.2L301.7 238.5L296.5 232.1Z" fill="#ffb200"/>
<path d="M288.2 389.1L293.8 395.2L296.1 387.9L290.5 381.9Z" fill="#0034ff"/>
<path d="M396.6 339.1L403.4 343.2L408.8 336.6L402.1 332.2Z" fill="#0cf4eb"/>
<path d="M272 369.6L277.3 376.3L279.6 369.1L274.3 362.4Z" fill="#007cff"/>
<path d="M245.8 209.8L250.8 216.4L255.4 209.4L250.4 203Z" fill="#ff4a00"/>
<path d="M296.3 246.2L301.5 252.8L306.9 244.9L301.7 238.5Z" fill="#ffc800"/>
<path d="M265.4 222.1L270.5 228.4L275.5 221L270.4 214.8Z" fill="#ff7300"/>
<path d="M389.9 334.9L396.6 339.1L402.1 332.2L395.5 327.8Z" fill="#19ffde"/>
<path d="M293.8 395.2L299.5 400.9L301.7 393.7L296.1 387.9Z" fill="#0020ff"/>
<path d="M301.5 252.8L306.7 259.3L312.1 251.5L306.9 244.9Z" fill="#ffde00"/>
<path d="M254.3 355.5L259.4 362.7L261.6 355.6L256.5 348.5Z" fill="#00b0ff"/>
<path d="M241.9 348.1L247.1 355.4L249.2 348.4L244.1 341.2Z" fill="#00ccff"/>
<path d="M209 182.6L213.7 189L217.7 182.9L213 176.7Z" fill="#d10000"/>
<path d="M343.4 290L348.5 296.4L354.1 288.4L349.1 282Z" fill="#9dff5a"/>
<path d="M306.7 259.3L311.9 265.9L317.3 258L312.1 251.5Z" fill="#f8f500"/>
<path d="M266.8 362.6L272 369.6L274.3 362.4L269.1 355.5Z" fill="#0098ff"/>
<path d="M311.9 265.9L317.1 272.5L322.5 264.6L317.3 258Z" fill="#e4ff13"/>
<path d="M229.7 340.3L234.8 347.7L236.8 340.9L231.8 333.6Z" fill="#02e8f4"/>
<path d="M307.4 425.6L313.5 430L315.3 423.1L309.2 418.5Z" fill="#0000bb"/>
<path d="M426.4 365L433.9 368.6L438.7 363.3L431.3 359.4Z" fill="#0094ff"/>
<path d="M303.3 413.5L309.2 418.5L311.2 411.5L305.3 406.4Z" fill="#0000ed"/>
<path d="M383.2 330.5L389.9 334.9L395.5 327.8L388.8 323.2Z" fill="#26ffd1"/>
<path d="M317.1 272.5L322.4 279L327.7 271L322.5 264.6Z" fill="#d1ff26"/>
<path d="M227.1 196.2L231.9 203L236.1 196.5L231.4 189.8Z" fill="#ff1e00"/>
<path d="M436.9 377.3L444.7 380.7L449 376.2L441.5 372.3Z" fill="#0064ff"/>
<path d="M451.9 396.9L459.2 401.1L462.8 397.4L455.7 392.8Z" fill="#0018ff"/>
<path d="M322.4 279L327.7 285.3L333 277.4L327.7 271Z" fill="#c1ff36"/>
<path d="M299.5 400.9L305.3 406.4L307.5 399.2L301.7 393.7Z" fill="#000cff"/>
<path d="M250.8 216.4L255.8 222.9L260.4 215.8L255.4 209.4Z" fill="#ff6000"/>
<path d="M249.2 348.4L254.3 355.5L256.5 348.5L251.4 341.4Z" fill="#00ccff"/>
<path d="M311.9 437L318.2 440.7L319.8 433.9L313.5 430Z" fill="#00008d"/>
<path d="M261.6 355.6L266.8 362.6L269.1 355.5L264 348.5Z" fill="#00b4ff"/>
<path d="M270.5 228.4L275.7 234.7L280.6 227.2L275.5 221Z" fill="#ff8900"/>
<path d="M236.8 340.9L241.9 348.1L244.1 341.2L239 334.1Z" fill="#02e8f4"/>
<path d="M285 375.6L290.5 381.9L293 374.6L287.5 368.3Z" fill="#006cff"/>
<path d="M376.7 325.8L383.2 330.5L388.8 323.2L382.3 318.3Z" fill="#36ffc1"/>
<path d="M279.6 369.1L285 375.6L287.5 368.3L282.1 361.8Z" fill="#0084ff"/>
<path d="M290.5 381.9L296.1 387.9L298.5 380.6L293 374.6Z" fill="#0054ff"/>
<path d="M348.5 296.4L353.6 302.7L359.3 294.9L354.1 288.4Z" fill="#8dff6a"/>
<path d="M274.3 362.4L279.6 369.1L282.1 361.8L276.8 355.2Z" fill="#009cff"/>
<path d="M327.7 285.3L332.9 291.6L338.2 283.7L333 277.4Z" fill="#adff49"/>
<path d="M224.8 332.7L229.7 340.3L231.8 333.6L226.8 326.1Z" fill="#1cffdb"/>
<path d="M231.9 203L236.7 209.8L241 203.1L236.1 196.5Z" fill="#ff3000"/>
<path d="M296.1 387.9L301.7 393.7L304.2 386.4L298.5 380.6Z" fill="#0040ff"/>
<path d="M256.5 348.5L261.6 355.6L264 348.5L258.9 341.4Z" fill="#00d0ff"/>
<path d="M244.1 341.2L249.2 348.4L251.4 341.4L246.3 334.3Z" fill="#02e8f4"/>
<path d="M370.4 320.6L376.7 325.8L382.3 318.3L376.1 313Z" fill="#46ffb1"/>
<path d="M275.7 234.7L280.8 241.1L285.8 233.5L280.6 227.2Z" fill="#ff9c00"/>
<path d="M269.1 355.5L274.3 362.4L276.8 355.2L271.6 348.3Z" fill="#00b4ff"/>
<path d="M231.8 333.6L236.8 340.9L239 334.1L233.9 326.8Z" fill="#19ffde"/>
<path d="M213.7 189L218.4 195.7L222.4 189.5L217.7 182.9Z" fill="#e80000"/>
<path d="M255.8 222.9L260.8 229.3L265.4 222.1L260.4 215.8Z" fill="#ff7300"/>
<path d="M353.6 302.7L358.9 309L364.6 301.2L359.3 294.9Z" fill="#7aff7d"/>
<path d="M309.2 418.5L315.3 423.1L317.2 416.1L311.2 411.5Z" fill="#0000da"/>
<path d="M305.3 406.4L311.2 411.5L313.3 404.4L307.5 399.2Z" fill="#0000ff"/>
<path d="M200.5 182.5L205.3 188.5L209 182.6L204.2 176.7Z" fill="#cd0000"/>
<path d="M364.5 315L370.4 320.6L376.1 313L370.2 307.3Z" fill="#56ffa0"/>
<path d="M332.9 291.6L338.1 297.9L343.4 290L338.2 283.7Z" fill="#9aff5d"/>
<path d="M236.7 209.8L241.6 216.6L245.8 209.8L241 203.1Z" fill="#ff4700"/>
<path d="M358.9 309L364.5 315L370.2 307.3L364.6 301.2Z" fill="#66ff90"/>
<path d="M280.8 241.1L286.1 247.5L291.1 239.8L285.8 233.5Z" fill="#ffb200"/>
<path d="M251.4 341.4L256.5 348.5L258.9 341.4L253.8 334.4Z" fill="#06ecf1"/>
<path d="M301.7 393.7L307.5 399.2L309.8 392L304.2 386.4Z" fill="#002cff"/>
<path d="M264 348.5L269.1 355.5L271.6 348.3L266.5 341.3Z" fill="#00d0ff"/>
<path d="M287.5 368.3L293 374.6L295.6 367.3L290.1 361Z" fill="#0088ff"/>
<path d="M239 334.1L244.1 341.2L246.3 334.3L241.2 327.2Z" fill="#19ffde"/>
<path d="M282.1 361.8L287.5 368.3L290.1 361L284.7 354.6Z" fill="#00a0ff"/>
<path d="M313.5 430L319.8 433.9L321.5 427L315.3 423.1Z" fill="#0000ad"/>
<path d="M293 374.6L298.5 380.6L301.1 373.3L295.6 367.3Z" fill="#0074ff"/>
<path d="M419 361.4L426.4 365L431.3 359.4L424.1 355.4Z" fill="#00a4ff"/>
<path d="M286.1 247.5L291.3 254L296.3 246.2L291.1 239.8Z" fill="#ffc800"/>
<path d="M455.6 405L462.4 410L465.8 406.4L459.2 401.1Z" fill="#0000ff"/>
<path d="M276.8 355.2L282.1 361.8L284.7 354.6L279.5 347.9Z" fill="#00b8ff"/>
<path d="M219.9 325L224.8 332.7L226.8 326.1L221.9 318.4Z" fill="#33ffc4"/>
<path d="M260.8 229.3L265.9 235.7L270.5 228.4L265.4 222.1Z" fill="#ff8900"/>
<path d="M226.8 326.1L231.8 333.6L233.9 326.8L228.9 319.4Z" fill="#33ffc4"/>
<path d="M291.3 254L296.5 260.5L301.5 252.8L296.3 246.2Z" fill="#ffde00"/>
<path d="M241.6 216.6L246.6 223.3L250.8 216.4L245.8 209.8Z" fill="#ff5d00"/>
<path d="M296.5 260.5L301.7 267.2L306.7 259.3L301.5 252.8Z" fill="#f8f500"/>
<path d="M301.7 267.2L306.9 273.8L311.9 265.9L306.7 259.3Z" fill="#e4ff13"/>
<path d="M306.9 273.8L312.1 280.4L317.1 272.5L311.9 265.9Z" fill="#d1ff26"/>
<path d="M298.5 380.6L304.2 386.4L306.7 379.1L301.1 373.3Z" fill="#005cff"/>
<path d="M258.9 341.4L264 348.5L266.5 341.3L261.4 334.3Z" fill="#06ecf1"/>
<path d="M312.1 280.4L317.4 286.9L322.4 279L317.1 272.5Z" fill="#beff39"/>
<path d="M246.3 334.3L251.4 341.4L253.8 334.4L248.7 327.3Z" fill="#19ffde"/>
<path d="M218.4 195.7L223.2 202.5L227.1 196.2L222.4 189.5Z" fill="#ff1600"/>
<path d="M440.3 385.5L448.2 388.9L452.3 384.6L444.7 380.7Z" fill="#004cff"/>
<path d="M338.1 297.9L343.3 304.2L348.5 296.4L343.4 290Z" fill="#8aff6d"/>
<path d="M271.6 348.3L276.8 355.2L279.5 347.9L274.3 341.1Z" fill="#00d4ff"/>
<path d="M233.9 326.8L239 334.1L241.2 327.2L236.2 320Z" fill="#30ffc7"/>
<path d="M317.4 286.9L322.7 293.2L327.7 285.3L322.4 279Z" fill="#aaff4d"/>
<path d="M192.1 182.7L197 188.2L200.5 182.5L195.6 177.1Z" fill="#cd0000"/>
<path d="M307.5 399.2L313.3 404.4L315.6 397.2L309.8 392Z" fill="#0018ff"/>
<path d="M311.2 411.5L317.2 416.1L319.3 409.1L313.3 404.4Z" fill="#0000fa"/>
<path d="M318.2 440.7L324.6 443.8L326.1 437L319.8 433.9Z" fill="#000084"/>
<path d="M246.6 223.3L251.6 229.9L255.8 222.9L250.8 216.4Z" fill="#ff7300"/>
<path d="M322.7 293.2L328 299.5L332.9 291.6L327.7 285.3Z" fill="#9aff5d"/>
<path d="M290.1 361L295.6 367.3L298.4 359.9L292.9 353.7Z" fill="#00a8ff"/>
<path d="M265.9 235.7L271.1 242.2L275.7 234.7L270.5 228.4Z" fill="#ff9c00"/>
<path d="M266.5 341.3L271.6 348.3L274.3 341.1L269.2 334.2Z" fill="#06ecf1"/>
<path d="M284.7 354.6L290.1 361L292.9 353.7L287.6 347.3Z" fill="#00bcff"/>
<path d="M253.8 334.4L258.9 341.4L261.4 334.3L256.3 327.3Z" fill="#1cffdb"/>
<path d="M304.2 386.4L309.8 392L312.4 384.8L306.7 379.1Z" fill="#0048ff"/>
<path d="M241.2 327.2L246.3 334.3L248.7 327.3L243.6 320.3Z" fill="#30ffc7"/>
<path d="M295.6 367.3L301.1 373.3L303.9 366L298.4 359.9Z" fill="#0090ff"/>
<path d="M223.2 202.5L228 209.5L231.9 203L227.1 196.2Z" fill="#ff2d00"/>
<path d="M279.5 347.9L284.7 354.6L287.6 347.3L282.3 340.6Z" fill="#00d8ff"/>
<path d="M205.3 188.5L210 195.1L213.7 189L209 182.6Z" fill="#e40000"/>
<path d="M315.3 423.1L321.5 427L323.3 420.2L317.2 416.1Z" fill="#0000cd"/>
<path d="M411.9 357.7L419 361.4L424.1 355.4L417 351.4Z" fill="#00b4ff"/>
<path d="M429.1 374L436.9 377.3L441.5 372.3L433.9 368.6Z" fill="#0078ff"/>
<path d="M221.9 318.4L226.8 326.1L228.9 319.4L224 311.8Z" fill="#49ffad"/>
<path d="M228.9 319.4L233.9 326.8L236.2 320L231.2 312.7Z" fill="#49ffad"/>
<path d="M343.3 304.2L348.4 310.6L353.6 302.7L348.5 296.4Z" fill="#7aff7d"/>
<path d="M301.1 373.3L306.7 379.1L309.5 371.9L303.9 366Z" fill="#007cff"/>
<path d="M271.1 242.2L276.2 248.6L280.8 241.1L275.7 234.7Z" fill="#ffb200"/>
<path d="M261.4 334.3L266.5 341.3L269.2 334.2L264.1 327.2Z" fill="#1cffdb"/>
<path d="M328 299.5L333.3 305.7L338.1 297.9L332.9 291.6Z" fill="#87ff70"/>
<path d="M215.2 317L219.9 325L221.9 318.4L217.2 310.6Z" fill="#4dffaa"/>
<path d="M251.6 229.9L256.6 236.5L260.8 229.3L255.8 222.9Z" fill="#ff8900"/>
<path d="M274.3 341.1L279.5 347.9L282.3 340.6L277.1 333.8Z" fill="#09f0ee"/>
<path d="M248.7 327.3L253.8 334.4L256.3 327.3L251.2 320.3Z" fill="#33ffc4"/>
<path d="M236.2 320L241.2 327.2L243.6 320.3L238.5 313.2Z" fill="#46ffb1"/>
<path d="M228 209.5L232.8 216.4L236.7 209.8L231.9 203Z" fill="#ff4300"/>
<path d="M405 353.8L411.9 357.7L417 351.4L410.1 347.3Z" fill="#00c4ff"/>
<path d="M276.2 248.6L281.5 255.1L286.1 247.5L280.8 241.1Z" fill="#ffc800"/>
<path d="M292.9 353.7L298.4 359.9L301.4 352.5L295.9 346.3Z" fill="#00c4ff"/>
<path d="M287.6 347.3L292.9 353.7L295.9 346.3L290.5 339.9Z" fill="#00dcfe"/>
<path d="M307.5 288.1L312.8 294.6L317.4 286.9L312.1 280.4Z" fill="#aaff4d"/>
<path d="M384.7 342L391.4 346L396.6 339.1L389.9 334.9Z" fill="#0cf4eb"/>
<path d="M391.4 346L398.2 349.9L403.4 343.2L396.6 339.1Z" fill="#00e4f8"/>
<path d="M269.2 334.2L274.3 341.1L277.1 333.8L272 326.9Z" fill="#1fffd7"/>
<path d="M309.8 392L315.6 397.2L318.1 390.1L312.4 384.8Z" fill="#0038ff"/>
<path d="M302.2 281.5L307.5 288.1L312.1 280.4L306.9 273.8Z" fill="#beff39"/>
<path d="M398.2 349.9L405 353.8L410.1 347.3L403.4 343.2Z" fill="#00d4ff"/>
<path d="M312.8 294.6L318.1 301L322.7 293.2L317.4 286.9Z" fill="#97ff60"/>
<path d="M256.3 327.3L261.4 334.3L264.1 327.2L259 320.2Z" fill="#33ffc4"/>
<path d="M281.5 255.1L286.7 261.6L291.3 254L286.1 247.5Z" fill="#ffde00"/>
<path d="M298.4 359.9L303.9 366L306.9 358.6L301.4 352.5Z" fill="#00acff"/>
<path d="M232.8 216.4L237.7 223.4L241.6 216.6L236.7 209.8Z" fill="#ff5900"/>
<path d="M297.1 274.9L302.2 281.5L306.9 273.8L301.7 267.2Z" fill="#d1ff26"/>
<path d="M313.3 404.4L319.3 409.1L321.5 402.1L315.6 397.2Z" fill="#000cff"/>
<path d="M378 337.8L384.7 342L389.9 334.9L383.2 330.5Z" fill="#19ffde"/>
<path d="M319.8 433.9L326.1 437L327.8 430.3L321.5 427Z" fill="#0000a4"/>
<path d="M243.6 320.3L248.7 327.3L251.2 320.3L246.1 313.3Z" fill="#46ffb1"/>
<path d="M348.4 310.6L353.7 316.8L358.9 309L353.6 302.7Z" fill="#66ff90"/>
<path d="M291.9 268.2L297.1 274.9L301.7 267.2L296.5 260.5Z" fill="#e4ff13"/>
<path d="M286.7 261.6L291.9 268.2L296.5 260.5L291.3 254Z" fill="#f8f500"/>
<path d="M282.3 340.6L287.6 347.3L290.5 339.9L285.3 333.3Z" fill="#0cf4eb"/>
<path d="M256.6 236.5L261.7 243L265.9 235.7L260.8 229.3Z" fill="#ff9f00"/>
<path d="M306.7 379.1L312.4 384.8L315 377.5L309.5 371.9Z" fill="#0068ff"/>
<path d="M444.1 393.4L451.9 396.9L455.7 392.8L448.2 388.9Z" fill="#0030ff"/>
<path d="M224 311.8L228.9 319.4L231.2 312.7L226.3 305.2Z" fill="#60ff97"/>
<path d="M318.1 301L323.4 307.2L328 299.5L322.7 293.2Z" fill="#83ff73"/>
<path d="M333.3 305.7L338.4 312L343.3 304.2L338.1 297.9Z" fill="#77ff80"/>
<path d="M231.2 312.7L236.2 320L238.5 313.2L233.5 305.9Z" fill="#5dff9a"/>
<path d="M371.4 333.2L378 337.8L383.2 330.5L376.7 325.8Z" fill="#26ffd1"/>
<path d="M210 195.1L214.8 201.9L218.4 195.7L213.7 189Z" fill="#ff1300"/>
<path d="M237.7 223.4L242.6 230.2L246.6 223.3L241.6 216.6Z" fill="#ff7300"/>
<path d="M277.1 333.8L282.3 340.6L285.3 333.3L280.1 326.5Z" fill="#1fffd7"/>
<path d="M317.2 416.1L323.3 420.2L325.4 413.3L319.3 409.1Z" fill="#0000ed"/>
<path d="M303.9 366L309.5 371.9L312.4 364.5L306.9 358.6Z" fill="#0098ff"/>
<path d="M264.1 327.2L269.2 334.2L272 326.9L266.9 320Z" fill="#33ffc4"/>
<path d="M217.2 310.6L221.9 318.4L224 311.8L219.3 304.1Z" fill="#63ff94"/>
<path d="M251.2 320.3L256.3 327.3L259 320.2L253.8 313.3Z" fill="#49ffad"/>
<path d="M353.7 316.8L359.3 322.7L364.5 315L358.9 309Z" fill="#56ffa0"/>
<path d="M197 188.2L201.8 194.5L205.3 188.5L200.5 182.5Z" fill="#df0000"/>
<path d="M365.2 328.2L371.4 333.2L376.7 325.8L370.4 320.6Z" fill="#36ffc1"/>
<path d="M238.5 313.2L243.6 320.3L246.1 313.3L241 306.3Z" fill="#5dff9a"/>
<path d="M295.9 346.3L301.4 352.5L304.5 345.1L299.1 338.9Z" fill="#00e0fb"/>
<path d="M261.7 243L266.8 249.5L271.1 242.2L265.9 235.7Z" fill="#ffb200"/>
<path d="M290.5 339.9L295.9 346.3L299.1 338.9L293.7 332.5Z" fill="#0ff8e7"/>
<path d="M242.6 230.2L247.6 237L251.6 229.9L246.6 223.3Z" fill="#ff8900"/>
<path d="M359.3 322.7L365.2 328.2L370.4 320.6L364.5 315Z" fill="#46ffb1"/>
<path d="M323.4 307.2L328.7 313.5L333.3 305.7L328 299.5Z" fill="#73ff83"/>
<path d="M272 326.9L277.1 333.8L280.1 326.5L275 319.7Z" fill="#36ffc1"/>
<path d="M301.4 352.5L306.9 358.6L310 351.2L304.5 345.1Z" fill="#00ccff"/>
<path d="M285.3 333.3L290.5 339.9L293.7 332.5L288.4 325.9Z" fill="#23ffd4"/>
<path d="M259 320.2L264.1 327.2L266.9 320L261.8 313.1Z" fill="#49ffad"/>
<path d="M303.2 295.8L308.4 302.4L312.8 294.6L307.5 288.1Z" fill="#94ff63"/>
<path d="M308.4 302.4L313.8 308.7L318.1 301L312.8 294.6Z" fill="#80ff77"/>
<path d="M246.1 313.3L251.2 320.3L253.8 313.3L248.7 306.4Z" fill="#5dff9a"/>
<path d="M210.6 308.9L215.2 317L217.2 310.6L212.6 302.6Z" fill="#6aff8d"/>
<path d="M297.9 289.2L303.2 295.8L307.5 288.1L302.2 281.5Z" fill="#a7ff50"/>
<path d="M312.4 384.8L318.1 390.1L320.7 383L315 377.5Z" fill="#0054ff"/>
<path d="M266.8 249.5L272 256.1L276.2 248.6L271.1 242.2Z" fill="#ffc800"/>
<path d="M214.8 201.9L219.5 208.9L223.2 202.5L218.4 195.7Z" fill="#ff2900"/>
<path d="M247.6 237L252.7 243.6L256.6 236.5L251.6 229.9Z" fill="#ff9f00"/>
<path d="M309.5 371.9L315 377.5L317.9 370.3L312.4 364.5Z" fill="#0084ff"/>
<path d="M226.3 305.2L231.2 312.7L233.5 305.9L228.6 298.6Z" fill="#77ff80"/>
<path d="M280.1 326.5L285.3 333.3L288.4 325.9L283.2 319.2Z" fill="#39ffbe"/>
<path d="M338.4 312L343.6 318.3L348.4 310.6L343.3 304.2Z" fill="#63ff94"/>
<path d="M313.8 308.7L319.2 314.9L323.4 307.2L318.1 301Z" fill="#6dff8a"/>
<path d="M292.8 282.5L297.9 289.2L302.2 281.5L297.1 274.9Z" fill="#beff39"/>
<path d="M315.6 397.2L321.5 402.1L323.9 395.1L318.1 390.1Z" fill="#0028ff"/>
<path d="M233.5 305.9L238.5 313.2L241 306.3L236 299.1Z" fill="#73ff83"/>
<path d="M293.7 332.5L299.1 338.9L302.4 331.4L297.1 325.1Z" fill="#26ffd1"/>
<path d="M266.9 320L272 326.9L275 319.7L269.8 312.8Z" fill="#4dffaa"/>
<path d="M299.1 338.9L304.5 345.1L307.9 337.7L302.4 331.4Z" fill="#13fce4"/>
<path d="M306.9 358.6L312.4 364.5L315.4 357.2L310 351.2Z" fill="#00b4ff"/>
<path d="M321.5 427L327.8 430.3L329.6 423.6L323.3 420.2Z" fill="#0000c4"/>
<path d="M272 256.1L277.2 262.6L281.5 255.1L276.2 248.6Z" fill="#ffde00"/>
<path d="M287.6 275.8L292.8 282.5L297.1 274.9L291.9 268.2Z" fill="#d1ff26"/>
<path d="M219.3 304.1L224 311.8L226.3 305.2L221.5 297.6Z" fill="#7aff7d"/>
<path d="M253.8 313.3L259 320.2L261.8 313.1L256.6 306.2Z" fill="#60ff97"/>
<path d="M282.4 269.2L287.6 275.8L291.9 268.2L286.7 261.6Z" fill="#e4ff13"/>
<path d="M288.4 325.9L293.7 332.5L297.1 325.1L291.8 318.5Z" fill="#39ffbe"/>
<path d="M277.2 262.6L282.4 269.2L286.7 261.6L281.5 255.1Z" fill="#f8f500"/>
<path d="M188.8 188.3L193.8 194L197 188.2L192.1 182.7Z" fill="#da0000"/>
<path d="M304.5 345.1L310 351.2L313.3 343.8L307.9 337.7Z" fill="#02e8f4"/>
<path d="M241 306.3L246.1 313.3L248.7 306.4L243.6 299.4Z" fill="#73ff83"/>
<path d="M421.5 370.8L429.1 374L433.9 368.6L426.4 365Z" fill="#008cff"/>
<path d="M328.7 313.5L334 319.7L338.4 312L333.3 305.7Z" fill="#60ff97"/>
<path d="M275 319.7L280.1 326.5L283.2 319.2L278.1 312.4Z" fill="#4dffaa"/>
<path d="M324.6 443.8L331 446.2L332.5 439.6L326.1 437Z" fill="#000080"/>
<path d="M252.7 243.6L257.7 250.3L261.7 243L256.6 236.5Z" fill="#ffb200"/>
<path d="M304.4 310L309.8 316.3L313.8 308.7L308.4 302.4Z" fill="#6aff8d"/>
<path d="M219.5 208.9L224.3 216L228 209.5L223.2 202.5Z" fill="#ff3f00"/>
<path d="M299.1 303.5L304.4 310L308.4 302.4L303.2 295.8Z" fill="#7dff7a"/>
<path d="M319.2 314.9L324.5 321.1L328.7 313.5L323.4 307.2Z" fill="#5dff9a"/>
<path d="M448 401.1L455.6 405L459.2 401.1L451.9 396.9Z" fill="#0018ff"/>
<path d="M297.1 325.1L302.4 331.4L306 323.9L300.6 317.6Z" fill="#3cffba"/>
<path d="M319.3 409.1L325.4 413.3L327.5 406.4L321.5 402.1Z" fill="#0000ff"/>
<path d="M309.8 316.3L315.2 322.6L319.2 314.9L313.8 308.7Z" fill="#5aff9d"/>
<path d="M302.4 331.4L307.9 337.7L311.4 330.2L306 323.9Z" fill="#2cffca"/>
<path d="M283.2 319.2L288.4 325.9L291.8 318.5L286.6 311.8Z" fill="#50ffa7"/>
<path d="M261.8 313.1L266.9 320L269.8 312.8L264.7 305.9Z" fill="#60ff97"/>
<path d="M293.9 296.8L299.1 303.5L303.2 295.8L297.9 289.2Z" fill="#94ff63"/>
<path d="M300.6 317.6L306 323.9L309.8 316.3L304.4 310Z" fill="#53ffa4"/>
<path d="M291.8 318.5L297.1 325.1L300.6 317.6L295.3 311Z" fill="#50ffa7"/>
<path d="M432.4 382.4L440.3 385.5L444.7 380.7L436.9 377.3Z" fill="#0060ff"/>
<path d="M224.3 216L229.2 223L232.8 216.4L228 209.5Z" fill="#ff5500"/>
<path d="M306 323.9L311.4 330.2L315.2 322.6L309.8 316.3Z" fill="#43ffb4"/>
<path d="M295.3 311L300.6 317.6L304.4 310L299.1 303.5Z" fill="#6aff8d"/>
<path d="M248.7 306.4L253.8 313.3L256.6 306.2L251.5 299.4Z" fill="#73ff83"/>
<path d="M212.6 302.6L217.2 310.6L219.3 304.1L214.6 296.2Z" fill="#7dff7a"/>
<path d="M229.2 223L234.1 230.1L237.7 223.4L232.8 216.4Z" fill="#ff6f00"/>
<path d="M269.8 312.8L275 319.7L278.1 312.4L273 305.5Z" fill="#63ff94"/>
<path d="M307.9 337.7L313.3 343.8L316.8 336.3L311.4 330.2Z" fill="#19ffde"/>
<path d="M228.6 298.6L233.5 305.9L236 299.1L231.1 291.9Z" fill="#8aff6d"/>
<path d="M257.7 250.3L262.9 256.9L266.8 249.5L261.7 243Z" fill="#ffc800"/>
<path d="M288.7 290.1L293.9 296.8L297.9 289.2L292.8 282.5Z" fill="#a7ff50"/>
<path d="M310 351.2L315.4 357.2L318.7 349.8L313.3 343.8Z" fill="#00d4ff"/>
<path d="M234.1 230.1L239 237L242.6 230.2L237.7 223.4Z" fill="#ff8600"/>
<path d="M201.8 194.5L206.6 201.2L210 195.1L205.3 188.5Z" fill="#f60b00"/>
<path d="M312.4 364.5L317.9 370.3L320.9 363L315.4 357.2Z" fill="#00a0ff"/>
<path d="M286.6 311.8L291.8 318.5L295.3 311L290.1 304.3Z" fill="#66ff90"/>
<path d="M236 299.1L241 306.3L243.6 299.4L238.6 292.3Z" fill="#8aff6d"/>
<path d="M343.6 318.3L348.9 324.4L353.7 316.8L348.4 310.6Z" fill="#53ffa4"/>
<path d="M278.1 312.4L283.2 319.2L286.6 311.8L281.4 305Z" fill="#63ff94"/>
<path d="M315.2 322.6L320.5 328.7L324.5 321.1L319.2 314.9Z" fill="#46ffb1"/>
<path d="M290.1 304.3L295.3 311L299.1 303.5L293.9 296.8Z" fill="#7dff7a"/>
<path d="M315 377.5L320.7 383L323.5 375.8L317.9 370.3Z" fill="#0070ff"/>
<path d="M239 237L244 243.9L247.6 237L242.6 230.2Z" fill="#ff9c00"/>
<path d="M311.4 330.2L316.8 336.3L320.5 328.7L315.2 322.6Z" fill="#30ffc7"/>
<path d="M221.5 297.6L226.3 305.2L228.6 298.6L223.8 291Z" fill="#8dff6a"/>
<path d="M283.6 283.4L288.7 290.1L292.8 282.5L287.6 275.8Z" fill="#baff3c"/>
<path d="M256.6 306.2L261.8 313.1L264.7 305.9L259.6 299.1Z" fill="#77ff80"/>
<path d="M262.9 256.9L268 263.4L272 256.1L266.8 249.5Z" fill="#ffde00"/>
<path d="M243.6 299.4L248.7 306.4L251.5 299.4L246.4 292.4Z" fill="#8aff6d"/>
<path d="M285 297.6L290.1 304.3L293.9 296.8L288.7 290.1Z" fill="#90ff66"/>
<path d="M278.4 276.7L283.6 283.4L287.6 275.8L282.4 269.2Z" fill="#ceff29"/>
<path d="M324.5 321.1L329.8 327.3L334 319.7L328.7 313.5Z" fill="#4dffaa"/>
<path d="M281.4 305L286.6 311.8L290.1 304.3L285 297.6Z" fill="#7aff7d"/>
<path d="M244 243.9L249 250.7L252.7 243.6L247.6 237Z" fill="#ffb200"/>
<path d="M318.1 390.1L323.9 395.1L326.5 388L320.7 383Z" fill="#0044ff"/>
<path d="M264.7 305.9L269.8 312.8L273 305.5L267.8 298.7Z" fill="#77ff80"/>
<path d="M268 263.4L273.2 270L277.2 262.6L272 256.1Z" fill="#f8f500"/>
<path d="M273.2 270L278.4 276.7L282.4 269.2L277.2 262.6Z" fill="#e4ff13"/>
<path d="M273 305.5L278.1 312.4L281.4 305L276.3 298.2Z" fill="#7aff7d"/>
<path d="M334 319.7L339.2 325.9L343.6 318.3L338.4 312Z" fill="#50ffa7"/>
<path d="M313.3 343.8L318.7 349.8L322.2 342.4L316.8 336.3Z" fill="#09f0ee"/>
<path d="M323.3 420.2L329.6 423.6L331.6 416.8L325.4 413.3Z" fill="#0000e3"/>
<path d="M251.5 299.4L256.6 306.2L259.6 299.1L254.4 292.3Z" fill="#8aff6d"/>
<path d="M279.8 290.8L285 297.6L288.7 290.1L283.6 283.4Z" fill="#a4ff53"/>
<path d="M249 250.7L254.1 257.4L257.7 250.3L252.7 243.6Z" fill="#ffcc00"/>
<path d="M276.3 298.2L281.4 305L285 297.6L279.8 290.8Z" fill="#90ff66"/>
<path d="M231.1 291.9L236 299.1L238.6 292.3L233.7 285.1Z" fill="#a0ff56"/>
<path d="M238.6 292.3L243.6 299.4L246.4 292.4L241.4 285.4Z" fill="#a0ff56"/>
<path d="M214.6 296.2L219.3 304.1L221.5 297.6L216.7 289.8Z" fill="#94ff63"/>
<path d="M320.5 328.7L325.9 334.9L329.8 327.3L324.5 321.1Z" fill="#36ffc1"/>
<path d="M348.9 324.4L354.5 330.2L359.3 322.7L353.7 316.8Z" fill="#43ffb4"/>
<path d="M326.1 437L332.5 439.6L334.2 433L327.8 430.3Z" fill="#00009f"/>
<path d="M316.8 336.3L322.2 342.4L325.9 334.9L320.5 328.7Z" fill="#1fffd7"/>
<path d="M259.6 299.1L264.7 305.9L267.8 298.7L262.7 291.9Z" fill="#8dff6a"/>
<path d="M315.4 357.2L320.9 363L324.1 355.7L318.7 349.8Z" fill="#00bcff"/>
<path d="M267.8 298.7L273 305.5L276.3 298.2L271.2 291.4Z" fill="#8dff6a"/>
<path d="M206.1 300.7L210.6 308.9L212.6 302.6L208 294.4Z" fill="#83ff73"/>
<path d="M274.7 284.1L279.8 290.8L283.6 283.4L278.4 276.7Z" fill="#baff3c"/>
<path d="M254.1 257.4L259.2 264.1L262.9 256.9L257.7 250.3Z" fill="#ffe200"/>
<path d="M321.5 402.1L327.5 406.4L329.9 399.5L323.9 395.1Z" fill="#0018ff"/>
<path d="M223.8 291L228.6 298.6L231.1 291.9L226.2 284.4Z" fill="#a4ff53"/>
<path d="M246.4 292.4L251.5 299.4L254.4 292.3L249.3 285.4Z" fill="#a0ff56"/>
<path d="M271.2 291.4L276.3 298.2L279.8 290.8L274.7 284.1Z" fill="#a4ff53"/>
<path d="M206.6 201.2L211.4 208.1L214.8 201.9L210 195.1Z" fill="#ff2200"/>
<path d="M269.5 277.4L274.7 284.1L278.4 276.7L273.2 270Z" fill="#ceff29"/>
<path d="M259.2 264.1L264.3 270.8L268 263.4L262.9 256.9Z" fill="#f4f802"/>
<path d="M317.9 370.3L323.5 375.8L326.5 368.6L320.9 363Z" fill="#0090ff"/>
<path d="M264.3 270.8L269.5 277.4L273.2 270L268 263.4Z" fill="#e1ff16"/>
<path d="M254.4 292.3L259.6 299.1L262.7 291.9L257.5 285.2Z" fill="#a0ff56"/>
<path d="M262.7 291.9L267.8 298.7L271.2 291.4L266 284.7Z" fill="#a4ff53"/>
<path d="M354.5 330.2L360.4 335.7L365.2 328.2L359.3 322.7Z" fill="#33ffc4"/>
<path d="M233.7 285.1L238.6 292.3L241.4 285.4L236.4 278.3Z" fill="#b7ff40"/>
<path d="M414.1 367.5L421.5 370.8L426.4 365L419 361.4Z" fill="#009cff"/>
<path d="M266 284.7L271.2 291.4L274.7 284.1L269.5 277.4Z" fill="#b7ff40"/>
<path d="M241.4 285.4L246.4 292.4L249.3 285.4L244.3 278.5Z" fill="#b4ff43"/>
<path d="M240.6 250.8L245.6 257.7L249 250.7L244 243.9Z" fill="#ffc800"/>
<path d="M235.6 243.8L240.6 250.8L244 243.9L239 237Z" fill="#ffb200"/>
<path d="M329.8 327.3L335 333.4L339.2 325.9L334 319.7Z" fill="#39ffbe"/>
<path d="M245.6 257.7L250.6 264.5L254.1 257.4L249 250.7Z" fill="#ffe200"/>
<path d="M318.7 349.8L324.1 355.7L327.5 348.3L322.2 342.4Z" fill="#00dcfe"/>
<path d="M360.4 335.7L366.6 340.6L371.4 333.2L365.2 328.2Z" fill="#23ffd4"/>
<path d="M249.3 285.4L254.4 292.3L257.5 285.2L252.4 278.4Z" fill="#b7ff40"/>
<path d="M366.6 340.6L373.1 345L378 337.8L371.4 333.2Z" fill="#16ffe1"/>
<path d="M230.7 236.7L235.6 243.8L239 237L234.1 230.1Z" fill="#ff9c00"/>
<path d="M373.1 345L379.8 349L384.7 342L378 337.8Z" fill="#09f0ee"/>
<path d="M257.5 285.2L262.7 291.9L266 284.7L260.8 278Z" fill="#b7ff40"/>
<path d="M193.8 194L198.6 200.4L201.8 194.5L197 188.2Z" fill="#f10800"/>
<path d="M260.8 278L266 284.7L269.5 277.4L264.3 270.8Z" fill="#ceff29"/>
<path d="M250.6 264.5L255.7 271.3L259.2 264.1L254.1 257.4Z" fill="#f4f802"/>
<path d="M216.7 289.8L221.5 297.6L223.8 291L219 283.4Z" fill="#a7ff50"/>
<path d="M320.7 383L326.5 388L329.2 381L323.5 375.8Z" fill="#0060ff"/>
<path d="M339.2 325.9L344.5 331.9L348.9 324.4L343.6 318.3Z" fill="#40ffb7"/>
<path d="M226.2 284.4L231.1 291.9L233.7 285.1L228.8 277.8Z" fill="#b7ff40"/>
<path d="M255.7 271.3L260.8 278L264.3 270.8L259.2 264.1Z" fill="#e1ff16"/>
<path d="M452 409L459 413.7L462.4 410L455.6 405Z" fill="#0000ff"/>
<path d="M211.4 208.1L216.2 215.2L219.5 208.9L214.8 201.9Z" fill="#ff3800"/>
<path d="M252.4 278.4L257.5 285.2L260.8 278L255.7 271.3Z" fill="#caff2c"/>
<path d="M379.8 349L386.6 352.8L391.4 346L384.7 342Z" fill="#00e0fb"/>
<path d="M225.8 229.6L230.7 236.7L234.1 230.1L229.2 223Z" fill="#ff8200"/>
<path d="M244.3 278.5L249.3 285.4L252.4 278.4L247.3 271.5Z" fill="#caff2c"/>
<path d="M236.4 278.3L241.4 285.4L244.3 278.5L239.3 271.5Z" fill="#caff2c"/>
<path d="M247.3 271.5L252.4 278.4L255.7 271.3L250.6 264.5Z" fill="#e1ff16"/>
<path d="M325.9 334.9L331.2 340.9L335 333.4L329.8 327.3Z" fill="#26ffd1"/>
<path d="M208 294.4L212.6 302.6L214.6 296.2L210 288.2Z" fill="#97ff60"/>
<path d="M322.2 342.4L327.5 348.3L331.2 340.9L325.9 334.9Z" fill="#0ff8e7"/>
<path d="M221 222.4L225.8 229.6L229.2 223L224.3 216Z" fill="#ff6800"/>
<path d="M242.3 264.6L247.3 271.5L250.6 264.5L245.6 257.7Z" fill="#f4f802"/>
<path d="M216.2 215.2L221 222.4L224.3 216L219.5 208.9Z" fill="#ff5200"/>
<path d="M325.4 413.3L331.6 416.8L333.8 410.1L327.5 406.4Z" fill="#0000ff"/>
<path d="M239.3 271.5L244.3 278.5L247.3 271.5L242.3 264.6Z" fill="#e1ff16"/>
<path d="M237.4 257.6L242.3 264.6L245.6 257.7L240.6 250.8Z" fill="#ffe200"/>
<path d="M320.9 363L326.5 368.6L329.6 361.4L324.1 355.7Z" fill="#00acff"/>
<path d="M228.8 277.8L233.7 285.1L236.4 278.3L231.5 271.1Z" fill="#ceff29"/>
<path d="M386.6 352.8L393.3 356.6L398.2 349.9L391.4 346Z" fill="#00d4ff"/>
<path d="M327.8 430.3L334.2 433L336 426.4L329.6 423.6Z" fill="#0000bf"/>
<path d="M219 283.4L223.8 291L226.2 284.4L221.4 276.9Z" fill="#baff3c"/>
<path d="M323.9 395.1L329.9 399.5L332.4 392.6L326.5 388Z" fill="#0034ff"/>
<path d="M232.4 250.5L237.4 257.6L240.6 250.8L235.6 243.8Z" fill="#ffc800"/>
<path d="M436 390.4L444.1 393.4L448.2 388.9L440.3 385.5Z" fill="#0044ff"/>
<path d="M234.3 264.4L239.3 271.5L242.3 264.6L237.4 257.6Z" fill="#f4f802"/>
<path d="M231.5 271.1L236.4 278.3L239.3 271.5L234.3 264.4Z" fill="#e1ff16"/>
<path d="M407 364L414.1 367.5L419 361.4L411.9 357.7Z" fill="#00a8ff"/>
<path d="M393.3 356.6L400.1 360.3L405 353.8L398.2 349.9Z" fill="#00c4ff"/>
<path d="M185.7 194L190.8 199.8L193.8 194L188.8 188.3Z" fill="#ed0400"/>
<path d="M335 333.4L340.4 339.4L344.5 331.9L339.2 325.9Z" fill="#29ffce"/>
<path d="M344.5 331.9L350.1 337.7L354.5 330.2L348.9 324.4Z" fill="#30ffc7"/>
<path d="M210 288.2L214.6 296.2L216.7 289.8L212.1 281.9Z" fill="#adff49"/>
<path d="M323.5 375.8L329.2 381L332.1 373.9L326.5 368.6Z" fill="#007cff"/>
<path d="M227.5 243.3L232.4 250.5L235.6 243.8L230.7 236.7Z" fill="#ffae00"/>
<path d="M324.1 355.7L329.6 361.4L333 354.1L327.5 348.3Z" fill="#00c8ff"/>
<path d="M221.4 276.9L226.2 284.4L228.8 277.8L223.9 270.4Z" fill="#ceff29"/>
<path d="M400.1 360.3L407 364L411.9 357.7L405 353.8Z" fill="#00b8ff"/>
<path d="M229.4 257.2L234.3 264.4L237.4 257.6L232.4 250.5Z" fill="#ffde00"/>
<path d="M198.6 200.4L203.5 207.2L206.6 201.2L201.8 194.5Z" fill="#ff1e00"/>
<path d="M223.9 270.4L228.8 277.8L231.5 271.1L226.6 263.8Z" fill="#e4ff13"/>
<path d="M331.2 340.9L336.6 346.8L340.4 339.4L335 333.4Z" fill="#13fce4"/>
<path d="M226.6 263.8L231.5 271.1L234.3 264.4L229.4 257.2Z" fill="#f8f500"/>
<path d="M327.5 348.3L333 354.1L336.6 346.8L331.2 340.9Z" fill="#00e4f8"/>
<path d="M222.6 236.1L227.5 243.3L230.7 236.7L225.8 229.6Z" fill="#ff9400"/>
<path d="M201.6 292.4L206.1 300.7L208 294.4L203.4 286.3Z" fill="#a0ff56"/>
<path d="M424.5 379.6L432.4 382.4L436.9 377.3L429.1 374Z" fill="#0070ff"/>
<path d="M331 446.2L337.4 448.3L338.9 441.8L332.5 439.6Z" fill="#000080"/>
<path d="M212.1 281.9L216.7 289.8L219 283.4L214.3 275.6Z" fill="#c1ff36"/>
<path d="M327.5 406.4L333.8 410.1L336.1 403.3L329.9 399.5Z" fill="#0010ff"/>
<path d="M350.1 337.7L355.9 343L360.4 335.7L354.5 330.2Z" fill="#1fffd7"/>
<path d="M326.5 388L332.4 392.6L335.1 385.7L329.2 381Z" fill="#0050ff"/>
<path d="M224.5 249.9L229.4 257.2L232.4 250.5L227.5 243.3Z" fill="#ffc400"/>
<path d="M326.5 368.6L332.1 373.9L335.3 366.8L329.6 361.4Z" fill="#0098ff"/>
<path d="M329.6 423.6L336 426.4L338 419.8L331.6 416.8Z" fill="#0000da"/>
<path d="M217.8 228.8L222.6 236.1L225.8 229.6L221 222.4Z" fill="#ff7e00"/>
<path d="M340.4 339.4L346 345.1L350.1 337.7L344.5 331.9Z" fill="#19ffde"/>
<path d="M214.3 275.6L219 283.4L221.4 276.9L216.6 269.2Z" fill="#d4ff23"/>
<path d="M203.5 207.2L208.3 214.3L211.4 208.1L206.6 201.2Z" fill="#ff3400"/>
<path d="M355.9 343L362.1 347.8L366.6 340.6L360.4 335.7Z" fill="#0ff8e7"/>
<path d="M221.7 256.4L226.6 263.8L229.4 257.2L224.5 249.9Z" fill="#ffdb00"/>
<path d="M213 221.5L217.8 228.8L221 222.4L216.2 215.2Z" fill="#ff6400"/>
<path d="M203.4 286.3L208 294.4L210 288.2L205.4 280.2Z" fill="#b4ff43"/>
<path d="M208.3 214.3L213 221.5L216.2 215.2L211.4 208.1Z" fill="#ff4a00"/>
<path d="M216.6 269.2L221.4 276.9L223.9 270.4L219.1 262.8Z" fill="#e7ff0f"/>
<path d="M219.1 262.8L223.9 270.4L226.6 263.8L221.7 256.4Z" fill="#fbf100"/>
<path d="M329.6 361.4L335.3 366.8L338.6 359.6L333 354.1Z" fill="#00b4ff"/>
<path d="M219.7 242.5L224.5 249.9L227.5 243.3L222.6 236.1Z" fill="#ffab00"/>
<path d="M336.6 346.8L342.1 352.4L346 345.1L340.4 339.4Z" fill="#06ecf1"/>
<path d="M362.1 347.8L368.7 352.1L373.1 345L366.6 340.6Z" fill="#02e8f4"/>
<path d="M333 354.1L338.6 359.6L342.1 352.4L336.6 346.8Z" fill="#00d0ff"/>
<path d="M329.2 381L335.1 385.7L338 378.7L332.1 373.9Z" fill="#006cff"/>
<path d="M440 398L448 401.1L451.9 396.9L444.1 393.4Z" fill="#002cff"/>
<path d="M190.8 199.8L195.7 206.3L198.6 200.4L193.8 194Z" fill="#ff1600"/>
<path d="M329.9 399.5L336.1 403.3L338.6 396.6L332.4 392.6Z" fill="#002cff"/>
<path d="M332.5 439.6L338.9 441.8L340.6 435.4L334.2 433Z" fill="#00009b"/>
<path d="M205.4 280.2L210 288.2L212.1 281.9L207.4 274Z" fill="#c7ff30"/>
<path d="M368.7 352.1L375.3 356L379.8 349L373.1 345Z" fill="#00dcfe"/>
<path d="M346 345.1L351.8 350.3L355.9 343L350.1 337.7Z" fill="#0cf4eb"/>
<path d="M331.6 416.8L338 419.8L340.1 413.2L333.8 410.1Z" fill="#0000fa"/>
<path d="M217 248.9L221.7 256.4L224.5 249.9L219.7 242.5Z" fill="#ffc100"/>
<path d="M214.9 235.1L219.7 242.5L222.6 236.1L217.8 228.8Z" fill="#ff9100"/>
<path d="M207.4 274L212.1 281.9L214.3 275.6L209.6 267.8Z" fill="#dbff1c"/>
<path d="M332.1 373.9L338 378.7L341.1 371.7L335.3 366.8Z" fill="#0088ff"/>
<path d="M375.3 356L382.1 359.6L386.6 352.8L379.8 349Z" fill="#00ccff"/>
<path d="M214.4 255.3L219.1 262.8L221.7 256.4L217 248.9Z" fill="#ffd700"/>
<path d="M182.9 199.6L188 205.6L190.8 199.8L185.7 194Z" fill="#ff1600"/>
<path d="M209.6 267.8L214.3 275.6L216.6 269.2L211.9 261.5Z" fill="#eeff09"/>
<path d="M211.9 261.5L216.6 269.2L219.1 262.8L214.4 255.3Z" fill="#ffea00"/>
<path d="M342.1 352.4L348 357.5L351.8 350.3L346 345.1Z" fill="#00d8ff"/>
<path d="M332.4 392.6L338.6 396.6L341.3 389.7L335.1 385.7Z" fill="#0044ff"/>
<path d="M210.1 227.7L214.9 235.1L217.8 228.8L213 221.5Z" fill="#ff7700"/>
<path d="M197.1 284.1L201.6 292.4L203.4 286.3L198.9 278.1Z" fill="#baff3c"/>
<path d="M195.7 206.3L200.5 213.2L203.5 207.2L198.6 200.4Z" fill="#ff2d00"/>
<path d="M351.8 350.3L358 355L362.1 347.8L355.9 343Z" fill="#00e0fb"/>
<path d="M335.3 366.8L341.1 371.7L344.5 364.6L338.6 359.6Z" fill="#00a4ff"/>
<path d="M416.8 376.7L424.5 379.6L429.1 374L421.5 370.8Z" fill="#0080ff"/>
<path d="M338.6 359.6L344.5 364.6L348 357.5L342.1 352.4Z" fill="#00c0ff"/>
<path d="M334.2 433L340.6 435.4L342.4 428.9L336 426.4Z" fill="#0000bb"/>
<path d="M212.2 241.4L217 248.9L219.7 242.5L214.9 235.1Z" fill="#ffa700"/>
<path d="M205.4 220.4L210.1 227.7L213 221.5L208.3 214.3Z" fill="#ff5d00"/>
<path d="M382.1 359.6L388.8 363.3L393.3 356.6L386.6 352.8Z" fill="#00c0ff"/>
<path d="M200.5 213.2L205.4 220.4L208.3 214.3L203.5 207.2Z" fill="#ff4300"/>
<path d="M333.8 410.1L340.1 413.2L342.5 406.6L336.1 403.3Z" fill="#0008ff"/>
<path d="M198.9 278.1L203.4 286.3L205.4 280.2L200.8 272.1Z" fill="#ceff29"/>
<path d="M444.2 405.5L452 409L455.6 405L448 401.1Z" fill="#0014ff"/>
<path d="M358 355L364.5 359.1L368.7 352.1L362.1 347.8Z" fill="#00d4ff"/>
<path d="M335.1 385.7L341.3 389.7L344.2 382.9L338 378.7Z" fill="#0060ff"/>
<path d="M427.9 387.8L436 390.4L440.3 385.5L432.4 382.4Z" fill="#0058ff"/>
<path d="M209.6 247.6L214.4 255.3L217 248.9L212.2 241.4Z" fill="#ffb900"/>
<path d="M200.8 272.1L205.4 280.2L207.4 274L202.8 266.1Z" fill="#e1ff16"/>
<path d="M348 357.5L354.2 362.1L358 355L351.8 350.3Z" fill="#00c8ff"/>
<path d="M207.4 233.9L212.2 241.4L214.9 235.1L210.1 227.7Z" fill="#ff8900"/>
<path d="M388.8 363.3L395.5 366.9L400.1 360.3L393.3 356.6Z" fill="#00b4ff"/>
<path d="M207.2 253.8L211.9 261.5L214.4 255.3L209.6 247.6Z" fill="#ffd000"/>
<path d="M202.8 266.1L207.4 274L209.6 267.8L205 260Z" fill="#f4f802"/>
<path d="M338 378.7L344.2 382.9L347.3 376L341.1 371.7Z" fill="#007cff"/>
<path d="M188 205.6L193 212.2L195.7 206.3L190.8 199.8Z" fill="#ff2900"/>
<path d="M336 426.4L342.4 428.9L344.4 422.4L338 419.8Z" fill="#0000d6"/>
<path d="M205 260L209.6 267.8L211.9 261.5L207.2 253.8Z" fill="#ffe200"/>
<path d="M336.1 403.3L342.5 406.6L345 399.9L338.6 396.6Z" fill="#0020ff"/>
<path d="M364.5 359.1L371.2 362.9L375.3 356L368.7 352.1Z" fill="#00c4ff"/>
<path d="M344.5 364.6L350.6 369.1L354.2 362.1L348 357.5Z" fill="#00b0ff"/>
<path d="M341.1 371.7L347.3 376L350.6 369.1L344.5 364.6Z" fill="#0094ff"/>
<path d="M409.4 373.6L416.8 376.7L421.5 370.8L414.1 367.5Z" fill="#0090ff"/>
<path d="M202.7 226.5L207.4 233.9L210.1 227.7L205.4 220.4Z" fill="#ff6f00"/>
<path d="M337.4 448.3L343.9 450.2L345.4 443.9L338.9 441.8Z" fill="#000080"/>
<path d="M395.5 366.9L402.3 370.3L407 364L400.1 360.3Z" fill="#00a8ff"/>
<path d="M204.9 240L209.6 247.6L212.2 241.4L207.4 233.9Z" fill="#ff9f00"/>
<path d="M354.2 362.1L360.6 366.1L364.5 359.1L358 355Z" fill="#00bcff"/>
<path d="M193 212.2L197.8 219.2L200.5 213.2L195.7 206.3Z" fill="#ff3f00"/>
<path d="M402.3 370.3L409.4 373.6L414.1 367.5L407 364Z" fill="#009cff"/>
<path d="M180.2 205.2L185.4 211.3L188 205.6L182.9 199.6Z" fill="#ff2500"/>
<path d="M197.8 219.2L202.7 226.5L205.4 220.4L200.5 213.2Z" fill="#ff5500"/>
<path d="M338.6 396.6L345 399.9L347.7 393.3L341.3 389.7Z" fill="#003cff"/>
<path d="M192.5 275.8L197.1 284.1L198.9 278.1L194.3 270Z" fill="#d7ff1f"/>
<path d="M371.2 362.9L377.9 366.4L382.1 359.6L375.3 356Z" fill="#00b8ff"/>
<path d="M338 419.8L344.4 422.4L346.6 415.9L340.1 413.2Z" fill="#0000f6"/>
<path d="M202.5 246.1L207.2 253.8L209.6 247.6L204.9 240Z" fill="#ffb200"/>
<path d="M194.3 270L198.9 278.1L200.8 272.1L196.2 264.1Z" fill="#ebff0c"/>
<path d="M448.3 413.1L455.5 417.5L459 413.7L452 409Z" fill="#0000ff"/>
<path d="M341.3 389.7L347.7 393.3L350.6 386.5L344.2 382.9Z" fill="#0054ff"/>
<path d="M350.6 369.1L357.1 373L360.6 366.1L354.2 362.1Z" fill="#00a0ff"/>
<path d="M338.9 441.8L345.4 443.9L347.1 437.5L340.6 435.4Z" fill="#00009b"/>
<path d="M200.3 252.1L205 260L207.2 253.8L202.5 246.1Z" fill="#ffc800"/>
<path d="M196.2 264.1L200.8 272.1L202.8 266.1L198.2 258.1Z" fill="#fbf100"/>
<path d="M200.1 232.5L204.9 240L207.4 233.9L202.7 226.5Z" fill="#ff8200"/>
<path d="M198.2 258.1L202.8 266.1L205 260L200.3 252.1Z" fill="#ffdb00"/>
<path d="M360.6 366.1L367.3 369.7L371.2 362.9L364.5 359.1Z" fill="#00acff"/>
<path d="M344.2 382.9L350.6 386.5L353.7 379.8L347.3 376Z" fill="#0070ff"/>
<path d="M347.3 376L353.7 379.8L357.1 373L350.6 369.1Z" fill="#0088ff"/>
<path d="M340.1 413.2L346.6 415.9L349 409.4L342.5 406.6Z" fill="#0000ff"/>
<path d="M185.4 211.3L190.4 218L193 212.2L188 205.6Z" fill="#ff3800"/>
<path d="M377.9 366.4L384.5 369.9L388.8 363.3L382.1 359.6Z" fill="#00acff"/>
<path d="M431.8 395.5L440 398L444.1 393.4L436 390.4Z" fill="#0040ff"/>
<path d="M195.3 225.1L200.1 232.5L202.7 226.5L197.8 219.2Z" fill="#ff6800"/>
<path d="M197.8 238.5L202.5 246.1L204.9 240L200.1 232.5Z" fill="#ff9800"/>
<path d="M190.4 218L195.3 225.1L197.8 219.2L193 212.2Z" fill="#ff5200"/>
<path d="M420 385.3L427.9 387.8L432.4 382.4L424.5 379.6Z" fill="#0068ff"/>
<path d="M340.6 435.4L347.1 437.5L348.9 431.2L342.4 428.9Z" fill="#0000b6"/>
<path d="M342.5 406.6L349 409.4L351.5 402.9L345 399.9Z" fill="#001cff"/>
<path d="M177.7 210.8L183 216.9L185.4 211.3L180.2 205.2Z" fill="#ff3400"/>
<path d="M357.1 373L363.7 376.4L367.3 369.7L360.6 366.1Z" fill="#0098ff"/>
<path d="M367.3 369.7L374 373.1L377.9 366.4L371.2 362.9Z" fill="#00a4ff"/>
<path d="M195.5 244.4L200.3 252.1L202.5 246.1L197.8 238.5Z" fill="#ffab00"/>
<path d="M187.9 267.7L192.5 275.8L194.3 270L189.6 261.9Z" fill="#f1fc06"/>
<path d="M384.5 369.9L391.2 373.3L395.5 366.9L388.8 363.3Z" fill="#00a4ff"/>
<path d="M193.4 250.3L198.2 258.1L200.3 252.1L195.5 244.4Z" fill="#ffbd00"/>
<path d="M192.9 231L197.8 238.5L200.1 232.5L195.3 225.1Z" fill="#ff7a00"/>
<path d="M189.6 261.9L194.3 270L196.2 264.1L191.5 256.1Z" fill="#ffe600"/>
<path d="M345 399.9L351.5 402.9L354.2 396.4L347.7 393.3Z" fill="#0034ff"/>
<path d="M191.5 256.1L196.2 264.1L198.2 258.1L193.4 250.3Z" fill="#ffd300"/>
<path d="M342.4 428.9L348.9 431.2L350.9 424.8L344.4 422.4Z" fill="#0000d6"/>
<path d="M353.7 379.8L360.3 383.1L363.7 376.4L357.1 373Z" fill="#0080ff"/>
<path d="M183 216.9L188 223.8L190.4 218L185.4 211.3Z" fill="#ff4a00"/>
<path d="M347.7 393.3L354.2 396.4L357.2 389.8L350.6 386.5Z" fill="#004cff"/>
<path d="M350.6 386.5L357.2 389.8L360.3 383.1L353.7 379.8Z" fill="#0068ff"/>
<path d="M188 223.8L192.9 231L195.3 225.1L190.4 218Z" fill="#ff6000"/>
<path d="M190.7 236.8L195.5 244.4L197.8 238.5L192.9 231Z" fill="#ff8d00"/>
<path d="M435.9 402.8L444.2 405.5L448 401.1L440 398Z" fill="#0028ff"/>
<path d="M344.4 422.4L350.9 424.8L353.1 418.4L346.6 415.9Z" fill="#0000f1"/>
<path d="M391.2 373.3L398 376.7L402.3 370.3L395.5 366.9Z" fill="#0098ff"/>
<path d="M374 373.1L380.6 376.5L384.5 369.9L377.9 366.4Z" fill="#0098ff"/>
<path d="M363.7 376.4L370.3 379.7L374 373.1L367.3 369.7Z" fill="#008cff"/>
<path d="M175.4 216.3L180.7 222.6L183 216.9L177.7 210.8Z" fill="#ff4700"/>
<path d="M412.3 382.6L420 385.3L424.5 379.6L416.8 376.7Z" fill="#0074ff"/>
<path d="M188.6 242.6L193.4 250.3L195.5 244.4L190.7 236.8Z" fill="#ffa300"/>
<path d="M343.9 450.2L350.3 452.1L351.9 445.9L345.4 443.9Z" fill="#000080"/>
<path d="M185.8 229.5L190.7 236.8L192.9 231L188 223.8Z" fill="#ff7300"/>
<path d="M186.7 248.4L191.5 256.1L193.4 250.3L188.6 242.6Z" fill="#ffb600"/>
<path d="M180.7 222.6L185.8 229.5L188 223.8L183 216.9Z" fill="#ff5d00"/>
<path d="M346.6 415.9L353.1 418.4L355.5 412.1L349 409.4Z" fill="#0000ff"/>
<path d="M183.1 259.7L187.9 267.7L189.6 261.9L184.8 254Z" fill="#ffdb00"/>
<path d="M184.8 254L189.6 261.9L191.5 256.1L186.7 248.4Z" fill="#ffc800"/>
<path d="M398 376.7L405 379.8L409.4 373.6L402.3 370.3Z" fill="#008cff"/>
<path d="M405 379.8L412.3 382.6L416.8 376.7L409.4 373.6Z" fill="#0080ff"/>
<path d="M360.3 383.1L366.9 386.3L370.3 379.7L363.7 376.4Z" fill="#0074ff"/>
<path d="M349 409.4L355.5 412.1L358 405.7L351.5 402.9Z" fill="#0014ff"/>
<path d="M345.4 443.9L351.9 445.9L353.5 439.7L347.1 437.5Z" fill="#00009b"/>
<path d="M183.7 235.2L188.6 242.6L190.7 236.8L185.8 229.5Z" fill="#ff8600"/>
<path d="M423.6 393.2L431.8 395.5L436 390.4L427.9 387.8Z" fill="#0050ff"/>
<path d="M173.2 221.8L178.6 228.2L180.7 222.6L175.4 216.3Z" fill="#ff5900"/>
<path d="M357.2 389.8L363.8 392.8L366.9 386.3L360.3 383.1Z" fill="#0060ff"/>
<path d="M380.6 376.5L387.3 379.8L391.2 373.3L384.5 369.9Z" fill="#0090ff"/>
<path d="M351.5 402.9L358 405.7L360.8 399.2L354.2 396.4Z" fill="#0030ff"/>
<path d="M440.3 410L448.3 413.1L452 409L444.2 405.5Z" fill="#0010ff"/>
<path d="M354.2 396.4L360.8 399.2L363.8 392.8L357.2 389.8Z" fill="#0048ff"/>
<path d="M370.3 379.7L376.9 382.9L380.6 376.5L374 373.1Z" fill="#0084ff"/>
<path d="M178.6 228.2L183.7 235.2L185.8 229.5L180.7 222.6Z" fill="#ff6f00"/>
<path d="M181.7 240.8L186.7 248.4L188.6 242.6L183.7 235.2Z" fill="#ff9800"/>
<path d="M347.1 437.5L353.5 439.7L355.4 433.5L348.9 431.2Z" fill="#0000b6"/>
<path d="M179.9 246.4L184.8 254L186.7 248.4L181.7 240.8Z" fill="#ffab00"/>
<path d="M178.1 252L183.1 259.7L184.8 254L179.9 246.4Z" fill="#ffc100"/>
<path d="M171.1 227.3L176.6 233.7L178.6 228.2L173.2 221.8Z" fill="#ff6800"/>
<path d="M176.6 233.7L181.7 240.8L183.7 235.2L178.6 228.2Z" fill="#ff7e00"/>
<path d="M348.9 431.2L355.4 433.5L357.4 427.2L350.9 424.8Z" fill="#0000d1"/>
<path d="M366.9 386.3L373.5 389.4L376.9 382.9L370.3 379.7Z" fill="#006cff"/>
<path d="M387.3 379.8L394 383L398 376.7L391.2 373.3Z" fill="#0084ff"/>
<path d="M174.7 239.2L179.9 246.4L181.7 240.8L176.6 233.7Z" fill="#ff9100"/>
<path d="M169.2 232.7L174.7 239.2L176.6 233.7L171.1 227.3Z" fill="#ff7a00"/>
<path d="M350.9 424.8L357.4 427.2L359.6 421L353.1 418.4Z" fill="#0000ed"/>
<path d="M172.9 244.7L178.1 252L179.9 246.4L174.7 239.2Z" fill="#ffa300"/>
<path d="M376.9 382.9L383.5 386.2L387.3 379.8L380.6 376.5Z" fill="#007cff"/>
<path d="M363.8 392.8L370.3 395.8L373.5 389.4L366.9 386.3Z" fill="#0058ff"/>
<path d="M415.7 391L423.6 393.2L427.9 387.8L420 385.3Z" fill="#005cff"/>
<path d="M444.7 417.3L452.1 421.4L455.5 417.5L448.3 413.1Z" fill="#0000ff"/>
<path d="M353.1 418.4L359.6 421L362 414.7L355.5 412.1Z" fill="#0000ff"/>
<path d="M427.6 400.7L435.9 402.8L440 398L431.8 395.5Z" fill="#0038ff"/>
<path d="M167.3 238L172.9 244.7L174.7 239.2L169.2 232.7Z" fill="#ff8d00"/>
<path d="M360.8 399.2L367.3 402.1L370.3 395.8L363.8 392.8Z" fill="#0040ff"/>
<path d="M355.5 412.1L362 414.7L364.6 408.4L358 405.7Z" fill="#0010ff"/>
<path d="M358 405.7L364.6 408.4L367.3 402.1L360.8 399.2Z" fill="#0028ff"/>
<path d="M394 383L400.9 386L405 379.8L398 376.7Z" fill="#007cff"/>
<path d="M350.3 452.1L356.8 454L358.3 447.9L351.9 445.9Z" fill="#000080"/>
<path d="M408.1 388.6L415.7 391L420 385.3L412.3 382.6Z" fill="#0068ff"/>
<path d="M400.9 386L408.1 388.6L412.3 382.6L405 379.8Z" fill="#0074ff"/>
<path d="M373.5 389.4L380.1 392.5L383.5 386.2L376.9 382.9Z" fill="#0064ff"/>
<path d="M351.9 445.9L358.3 447.9L360 441.8L353.5 439.7Z" fill="#00009b"/>
<path d="M383.5 386.2L390.2 389.2L394 383L387.3 379.8Z" fill="#0070ff"/>
<path d="M353.5 439.7L360 441.8L361.9 435.7L355.4 433.5Z" fill="#0000b6"/>
<path d="M370.3 395.8L376.9 398.7L380.1 392.5L373.5 389.4Z" fill="#0050ff"/>
<path d="M431.9 407.7L440.3 410L444.2 405.5L435.9 402.8Z" fill="#0024ff"/>
<path d="M355.4 433.5L361.9 435.7L363.9 429.6L357.4 427.2Z" fill="#0000d1"/>
<path d="M367.3 402.1L373.9 404.9L376.9 398.7L370.3 395.8Z" fill="#0038ff"/>
<path d="M357.4 427.2L363.9 429.6L366.1 423.4L359.6 421Z" fill="#0000ed"/>
<path d="M419.5 398.8L427.6 400.7L431.8 395.5L423.6 393.2Z" fill="#0048ff"/>
<path d="M390.2 389.2L397.1 392.1L400.9 386L394 383Z" fill="#0068ff"/>
<path d="M364.6 408.4L371.1 411.1L373.9 404.9L367.3 402.1Z" fill="#0024ff"/>
<path d="M359.6 421L366.1 423.4L368.5 417.3L362 414.7Z" fill="#0000ff"/>
<path d="M380.1 392.5L386.7 395.4L390.2 389.2L383.5 386.2Z" fill="#005cff"/>
<path d="M362 414.7L368.5 417.3L371.1 411.1L364.6 408.4Z" fill="#000cff"/>
<path d="M436.5 414.6L444.7 417.3L448.3 413.1L440.3 410Z" fill="#000cff"/>
<path d="M397.1 392.1L404.2 394.6L408.1 388.6L400.9 386Z" fill="#0060ff"/>
<path d="M376.9 398.7L383.5 401.6L386.7 395.4L380.1 392.5Z" fill="#0048ff"/>
<path d="M411.6 396.8L419.5 398.8L423.6 393.2L415.7 391Z" fill="#0050ff"/>
<path d="M404.2 394.6L411.6 396.8L415.7 391L408.1 388.6Z" fill="#0058ff"/>
<path d="M356.8 454L363.3 455.8L364.8 449.8L358.3 447.9Z" fill="#000080"/>
<path d="M386.7 395.4L393.5 398.1L397.1 392.1L390.2 389.2Z" fill="#0058ff"/>
<path d="M373.9 404.9L380.4 407.7L383.5 401.6L376.9 398.7Z" fill="#0034ff"/>
<path d="M358.3 447.9L364.8 449.8L366.5 443.8L360 441.8Z" fill="#00009b"/>
<path d="M423.6 406L431.9 407.7L435.9 402.8L427.6 400.7Z" fill="#0030ff"/>
<path d="M360 441.8L366.5 443.8L368.3 437.8L361.9 435.7Z" fill="#0000b6"/>
<path d="M371.1 411.1L377.6 413.7L380.4 407.7L373.9 404.9Z" fill="#0020ff"/>
<path d="M361.9 435.7L368.3 437.8L370.4 431.8L363.9 429.6Z" fill="#0000cd"/>
<path d="M441.1 421.6L448.7 425.3L452.1 421.4L444.7 417.3Z" fill="#0000ff"/>
<path d="M368.5 417.3L375 419.8L377.6 413.7L371.1 411.1Z" fill="#0008ff"/>
<path d="M363.9 429.6L370.4 431.8L372.6 425.8L366.1 423.4Z" fill="#0000e8"/>
<path d="M366.1 423.4L372.6 425.8L375 419.8L368.5 417.3Z" fill="#0000ff"/>
<path d="M383.5 401.6L390.2 404.2L393.5 398.1L386.7 395.4Z" fill="#0044ff"/>
<path d="M393.5 398.1L400.5 400.5L404.2 394.6L397.1 392.1Z" fill="#0050ff"/>
<path d="M415.5 404.3L423.6 406L427.6 400.7L419.5 398.8Z" fill="#003cff"/>
<path d="M428 412.7L436.5 414.6L440.3 410L431.9 407.7Z" fill="#001cff"/>
<path d="M380.4 407.7L387.1 410.1L390.2 404.2L383.5 401.6Z" fill="#0030ff"/>
<path d="M400.5 400.5L407.8 402.5L411.6 396.8L404.2 394.6Z" fill="#004cff"/>
<path d="M407.8 402.5L415.5 404.3L419.5 398.8L411.6 396.8Z" fill="#0044ff"/>
<path d="M377.6 413.7L384.2 416.1L387.1 410.1L380.4 407.7Z" fill="#001cff"/>
<path d="M390.2 404.2L397.1 406.4L400.5 400.5L393.5 398.1Z" fill="#0040ff"/>
<path d="M363.3 455.8L369.8 457.2L371.3 451.3L364.8 449.8Z" fill="#000084"/>
<path d="M375 419.8L381.6 422L384.2 416.1L377.6 413.7Z" fill="#0004ff"/>
<path d="M364.8 449.8L371.3 451.3L373 445.5L366.5 443.8Z" fill="#00009b"/>
<path d="M372.6 425.8L379.2 427.8L381.6 422L375 419.8Z" fill="#0000ff"/>
<path d="M366.5 443.8L373 445.5L374.9 439.6L368.3 437.8Z" fill="#0000b6"/>
<path d="M370.4 431.8L376.9 433.7L379.2 427.8L372.6 425.8Z" fill="#0000e8"/>
<path d="M368.3 437.8L374.9 439.6L376.9 433.7L370.4 431.8Z" fill="#0000cd"/>
<path d="M432.7 419.3L441.1 421.6L444.7 417.3L436.5 414.6Z" fill="#0004ff"/>
<path d="M387.1 410.1L393.9 412.2L397.1 406.4L390.2 404.2Z" fill="#002cff"/>
<path d="M419.8 411.3L428 412.7L431.9 407.7L423.6 406Z" fill="#0028ff"/>
<path d="M397.1 406.4L404.3 408.2L407.8 402.5L400.5 400.5Z" fill="#0038ff"/>
<path d="M384.2 416.1L391 418L393.9 412.2L387.1 410.1Z" fill="#0018ff"/>
<path d="M404.3 408.2L411.8 409.8L415.5 404.3L407.8 402.5Z" fill="#0034ff"/>
<path d="M411.8 409.8L419.8 411.3L423.6 406L415.5 404.3Z" fill="#0030ff"/>
<path d="M437.4 426L445.2 429.4L448.7 425.3L441.1 421.6Z" fill="#0000ff"/>
<path d="M381.6 422L388.3 423.8L391 418L384.2 416.1Z" fill="#0004ff"/>
<path d="M393.9 412.2L401 413.9L404.3 408.2L397.1 406.4Z" fill="#0028ff"/>
<path d="M424.3 417.8L432.7 419.3L436.5 414.6L428 412.7Z" fill="#0014ff"/>
<path d="M379.2 427.8L385.8 429.5L388.3 423.8L381.6 422Z" fill="#0000ff"/>
<path d="M376.9 433.7L383.5 435.3L385.8 429.5L379.2 427.8Z" fill="#0000e8"/>
<path d="M374.9 439.6L381.4 441L383.5 435.3L376.9 433.7Z" fill="#0000d1"/>
<path d="M369.8 457.2L376.3 458.2L377.8 452.4L371.3 451.3Z" fill="#000089"/>
<path d="M373 445.5L379.5 446.7L381.4 441L374.9 439.6Z" fill="#0000b6"/>
<path d="M371.3 451.3L377.8 452.4L379.5 446.7L373 445.5Z" fill="#00009f"/>
<path d="M391 418L398 419.6L401 413.9L393.9 412.2Z" fill="#0018ff"/>
<path d="M401 413.9L408.4 415.4L411.8 409.8L404.3 408.2Z" fill="#0024ff"/>
<path d="M416.1 416.6L424.3 417.8L428 412.7L419.8 411.3Z" fill="#001cff"/>
<path d="M408.4 415.4L416.1 416.6L419.8 411.3L411.8 409.8Z" fill="#0020ff"/>
<path d="M429.1 424.1L437.4 426L441.1 421.6L432.7 419.3Z" fill="#0000ff"/>
<path d="M388.3 423.8L395.2 425.2L398 419.6L391 418Z" fill="#0004ff"/>
<path d="M385.8 429.5L392.6 430.8L395.2 425.2L388.3 423.8Z" fill="#0000ff"/>
<path d="M398 419.6L405.2 420.9L408.4 415.4L401 413.9Z" fill="#0014ff"/>
<path d="M383.5 435.3L390.2 436.4L392.6 430.8L385.8 429.5Z" fill="#0000e8"/>
<path d="M420.7 422.9L429.1 424.1L432.7 419.3L424.3 417.8Z" fill="#0008ff"/>
<path d="M381.4 441L388.1 442L390.2 436.4L383.5 435.3Z" fill="#0000d1"/>
<path d="M405.2 420.9L412.8 422L416.1 416.6L408.4 415.4Z" fill="#0014ff"/>
<path d="M433.9 430.6L441.8 433.5L445.2 429.4L437.4 426Z" fill="#0000fa"/>
<path d="M379.5 446.7L386.1 447.6L388.1 442L381.4 441Z" fill="#0000bb"/>
<path d="M395.2 425.2L402.3 426.4L405.2 420.9L398 419.6Z" fill="#0004ff"/>
<path d="M377.8 452.4L384.3 453.2L386.1 447.6L379.5 446.7Z" fill="#0000a4"/>
<path d="M412.8 422L420.7 422.9L424.3 417.8L416.1 416.6Z" fill="#0010ff"/>
<path d="M376.3 458.2L382.7 458.8L384.3 453.2L377.8 452.4Z" fill="#00008d"/>
<path d="M392.6 430.8L399.6 431.9L402.3 426.4L395.2 425.2Z" fill="#0000ff"/>
<path d="M402.3 426.4L409.6 427.3L412.8 422L405.2 420.9Z" fill="#0004ff"/>
<path d="M425.5 429L433.9 430.6L437.4 426L429.1 424.1Z" fill="#0000ff"/>
<path d="M390.2 436.4L397.1 437.3L399.6 431.9L392.6 430.8Z" fill="#0000ed"/>
<path d="M388.1 442L394.8 442.8L397.1 437.3L390.2 436.4Z" fill="#0000d6"/>
<path d="M409.6 427.3L417.4 428.1L420.7 422.9L412.8 422Z" fill="#0004ff"/>
<path d="M417.4 428.1L425.5 429L429.1 424.1L420.7 422.9Z" fill="#0000ff"/>
<path d="M386.1 447.6L392.8 448.2L394.8 442.8L388.1 442Z" fill="#0000c4"/>
<path d="M399.6 431.9L406.7 432.7L409.6 427.3L402.3 426.4Z" fill="#0000ff"/>
<path d="M384.3 453.2L390.9 453.7L392.8 448.2L386.1 447.6Z" fill="#0000ad"/>
<path d="M382.7 458.8L389.2 459.1L390.9 453.7L384.3 453.2Z" fill="#000096"/>
<path d="M430.4 435.2L438.4 437.7L441.8 433.5L433.9 430.6Z" fill="#0000f1"/>
<path d="M397.1 437.3L404.1 438L406.7 432.7L399.6 431.9Z" fill="#0000f1"/>
<path d="M406.7 432.7L414.3 433.3L417.4 428.1L409.6 427.3Z" fill="#0000ff"/>
<path d="M422.2 434L430.4 435.2L433.9 430.6L425.5 429Z" fill="#0000ff"/>
<path d="M394.8 442.8L401.7 443.3L404.1 438L397.1 437.3Z" fill="#0000df"/>
<path d="M414.3 433.3L422.2 434L425.5 429L417.4 428.1Z" fill="#0000ff"/>
<path d="M392.8 448.2L399.5 448.6L401.7 443.3L394.8 442.8Z" fill="#0000c8"/>
<path d="M404.1 438L411.4 438.5L414.3 433.3L406.7 432.7Z" fill="#0000f6"/>
<path d="M390.9 453.7L397.5 453.9L399.5 448.6L392.8 448.2Z" fill="#0000b6"/>
<path d="M389.2 459.1L395.6 459.2L397.5 453.9L390.9 453.7Z" fill="#00009f"/>
<path d="M411.4 438.5L419 439L422.2 434L414.3 433.3Z" fill="#0000f6"/>
<path d="M401.7 443.3L408.7 443.7L411.4 438.5L404.1 438Z" fill="#0000e3"/>
<path d="M427 440L435 442L438.4 437.7L430.4 435.2Z" fill="#0000ed"/>
<path d="M419 439L427 440L430.4 435.2L422.2 434Z" fill="#0000f1"/>
<path d="M399.5 448.6L406.3 448.9L408.7 443.7L401.7 443.3Z" fill="#0000d1"/>
<path d="M408.7 443.7L416.1 444.1L419 439L411.4 438.5Z" fill="#0000e8"/>
<path d="M397.5 453.9L404.1 454.1L406.3 448.9L399.5 448.6Z" fill="#0000bf"/>
<path d="M416.1 444.1L423.8 444.8L427 440L419 439Z" fill="#0000e8"/>
<path d="M395.6 459.2L402.1 459.3L404.1 454.1L397.5 453.9Z" fill="#0000ad"/>
<path d="M423.8 444.8L431.6 446.4L435 442L427 440Z" fill="#0000e3"/>
<path d="M406.3 448.9L413.4 449.2L416.1 444.1L408.7 443.7Z" fill="#0000d6"/>
<path d="M404.1 454.1L410.9 454.3L413.4 449.2L406.3 448.9Z" fill="#0000c8"/>
<path d="M413.4 449.2L420.7 449.7L423.8 444.8L416.1 444.1Z" fill="#0000da"/>
<path d="M402.1 459.3L408.6 459.4L410.9 454.3L404.1 454.1Z" fill="#0000b6"/>
<path d="M420.7 449.7L428.2 450.8L431.6 446.4L423.8 444.8Z" fill="#0000da"/>
<path d="M410.9 454.3L417.8 454.6L420.7 449.7L413.4 449.2Z" fill="#0000cd"/>
<path d="M408.6 459.4L415.1 459.6L417.8 454.6L410.9 454.3Z" fill="#0000bf"/>
<path d="M417.8 454.6L424.9 455.4L428.2 450.8L420.7 449.7Z" fill="#0000d1"/>
<path d="M415.1 459.6L421.7 460L424.9 455.4L417.8 454.6Z" fill="#0000c8"/>
</g>
<g font-family="'DejaVu Sans','Liberation Sans',sans-serif" fill="#262626" font-size="15.55">
<text x="153.7" y="441.7" text-anchor="middle">0</text>
<text x="201.4" y="457.4" text-anchor="middle">20</text>
<text x="250.1" y="473.3" text-anchor="middle">40</text>
<text x="299.6" y="489.6" text-anchor="middle">60</text>
<text x="350.2" y="506.2" text-anchor="middle">80</text>
<text x="401.7" y="523.1" text-anchor="middle">100</text>
<text x="457.2" y="515.1" text-anchor="middle">1</text>
<text x="503.3" y="467.4" text-anchor="middle">2</text>
<text x="547" y="422.2" text-anchor="middle">3</text>
<text x="586.3" y="336" text-anchor="start">2000</text>
<text x="588.2" y="295.6" text-anchor="start">2200</text>
<text x="590.2" y="254.5" text-anchor="start">2400</text>
<text x="592.1" y="212.6" text-anchor="start">2600</text>
<text x="594.2" y="170" text-anchor="start">2800</text>
<text x="261.2" y="498.8" text-anchor="middle" transform="rotate(16.2 261.2 498.8)">Slag Replacement (%)</text>
<text x="547.6" y="457.2" text-anchor="middle" transform="rotate(-45 547.6 457.2)">Samples</text>
<text x="636.8" y="348.4" text-anchor="start" transform="rotate(-87.3 636.8 348.4)">Compressive Strength</text>
<text x="651.6" y="164.8" text-anchor="start" transform="rotate(-90 651.6 164.8)" font-family="'Liberation Sans',sans-serif" font-size="20" fill="#000">(psi)</text>
<text x="62.3" y="397.8" text-anchor="end">2000</text>
<text x="62.3" y="343.9" text-anchor="end">2200</text>
<text x="62.3" y="290.1" text-anchor="end">2400</text>
<text x="62.3" y="236.2" text-anchor="end">2600</text>
<text x="62.3" y="182.3" text-anchor="end">2800</text>
<text x="13.6" y="395.6" text-anchor="start" transform="rotate(-90 13.6 395.6)" font-size="15.75">Compressive Strength</text>
<text x="14.8" y="210.2" text-anchor="start" transform="rotate(-90 14.8 210.2)" font-family="'Liberation Sans',sans-serif" font-size="20" fill="#000">(psi)</text>
<text x="360.2" y="16.5" text-anchor="middle" font-size="20.7">3D Surface Plot: Compressive Strength vs Slag % and Samples</text>
</g>
<defs><linearGradient id="jet" x1="0" y1="0" x2="0" y2="1"><stop offset="0%" stop-color="#800000"/><stop offset="1.6%" stop-color="#8d0000"/><stop offset="3.1%" stop-color="#9f0000"/><stop offset="4.7%" stop-color="#b20000"/><stop offset="6.2%" stop-color="#c40000"/><stop offset="7.8%" stop-color="#d60000"/><stop offset="9.4%" stop-color="#e80000"/><stop offset="10.9%" stop-color="#fa0f00"/><stop offset="12.5%" stop-color="#ff1e00"/><stop offset="14.1%" stop-color="#ff2d00"/><stop offset="15.6%" stop-color="#ff3b00"/><stop offset="17.2%" stop-color="#ff4a00"/><stop offset="18.8%" stop-color="#ff5900"/><stop offset="20.3%" stop-color="#ff6800"/><stop offset="21.9%" stop-color="#ff7700"/><stop offset="23.4%" stop-color="#ff8600"/><stop offset="25%" stop-color="#ff9400"/><stop offset="26.6%" stop-color="#ffa300"/><stop offset="28.1%" stop-color="#ffb200"/><stop offset="29.7%" stop-color="#ffc100"/><stop offset="31.2%" stop-color="#ffd000"/><stop offset="32.8%" stop-color="#ffde00"/><stop offset="34.4%" stop-color="#feed00"/><stop offset="35.9%" stop-color="#f1fc06"/><stop offset="37.5%" stop-color="#e4ff13"/><stop offset="39.1%" stop-color="#d7ff1f"/><stop offset="40.6%" stop-color="#caff2c"/><stop offset="42.2%" stop-color="#beff39"/><stop offset="43.8%" stop-color="#b1ff46"/><stop offset="45.3%" stop-color="#a4ff53"/><stop offset="46.9%" stop-color="#97ff60"/><stop offset="48.4%" stop-color="#8aff6d"/><stop offset="50%" stop-color="#7dff7a"/><stop offset="51.6%" stop-color="#70ff87"/><stop offset="53.1%" stop-color="#63ff94"/><stop offset="54.7%" stop-color="#56ffa0"/><stop offset="56.2%" stop-color="#49ffad"/><stop offset="57.8%" stop-color="#3cffba"/><stop offset="59.4%" stop-color="#30ffc7"/><stop offset="60.9%" stop-color="#23ffd4"/><stop offset="62.5%" stop-color="#16ffe1"/><stop offset="64.1%" stop-color="#09f0ee"/><stop offset="65.6%" stop-color="#00e0fb"/><stop offset="67.2%" stop-color="#00d0ff"/><stop offset="68.8%" stop-color="#00c0ff"/><stop offset="70.3%" stop-color="#00b0ff"/><stop offset="71.9%" stop-color="#00a0ff"/><stop offset="73.4%" stop-color="#0090ff"/><stop offset="75%" stop-color="#0080ff"/><stop offset="76.6%" stop-color="#0070ff"/><stop offset="78.1%" stop-color="#0060ff"/><stop offset="79.7%" stop-color="#0050ff"/><stop offset="81.2%" stop-color="#0040ff"/><stop offset="82.8%" stop-color="#0030ff"/><stop offset="84.4%" stop-color="#0020ff"/><stop offset="85.9%" stop-color="#0010ff"/><stop offset="87.5%" stop-color="#0000ff"/><stop offset="89.1%" stop-color="#0000ff"/><stop offset="90.6%" stop-color="#0000ed"/><stop offset="92.2%" stop-color="#0000da"/><stop offset="93.8%" stop-color="#0000c8"/><stop offset="95.3%" stop-color="#0000b6"/><stop offset="96.9%" stop-color="#0000a4"/><stop offset="98.4%" stop-color="#000092"/><stop offset="100%" stop-color="#000080"/></linearGradient></defs>
<rect x="66.3" y="150" width="26" height="252.4" fill="url(#jet)" stroke="#222" stroke-width="1.1"/>
<g stroke="#222" stroke-width="1.1">
<path d="M66.3 391.4h4.5"/>
<path d="M66.3 337.5h4.5"/>
<path d="M66.3 283.6h4.5"/>
<path d="M66.3 229.7h4.5"/>
<path d="M66.3 175.9h4.5"/>
</g>
</svg>
</body></html>
